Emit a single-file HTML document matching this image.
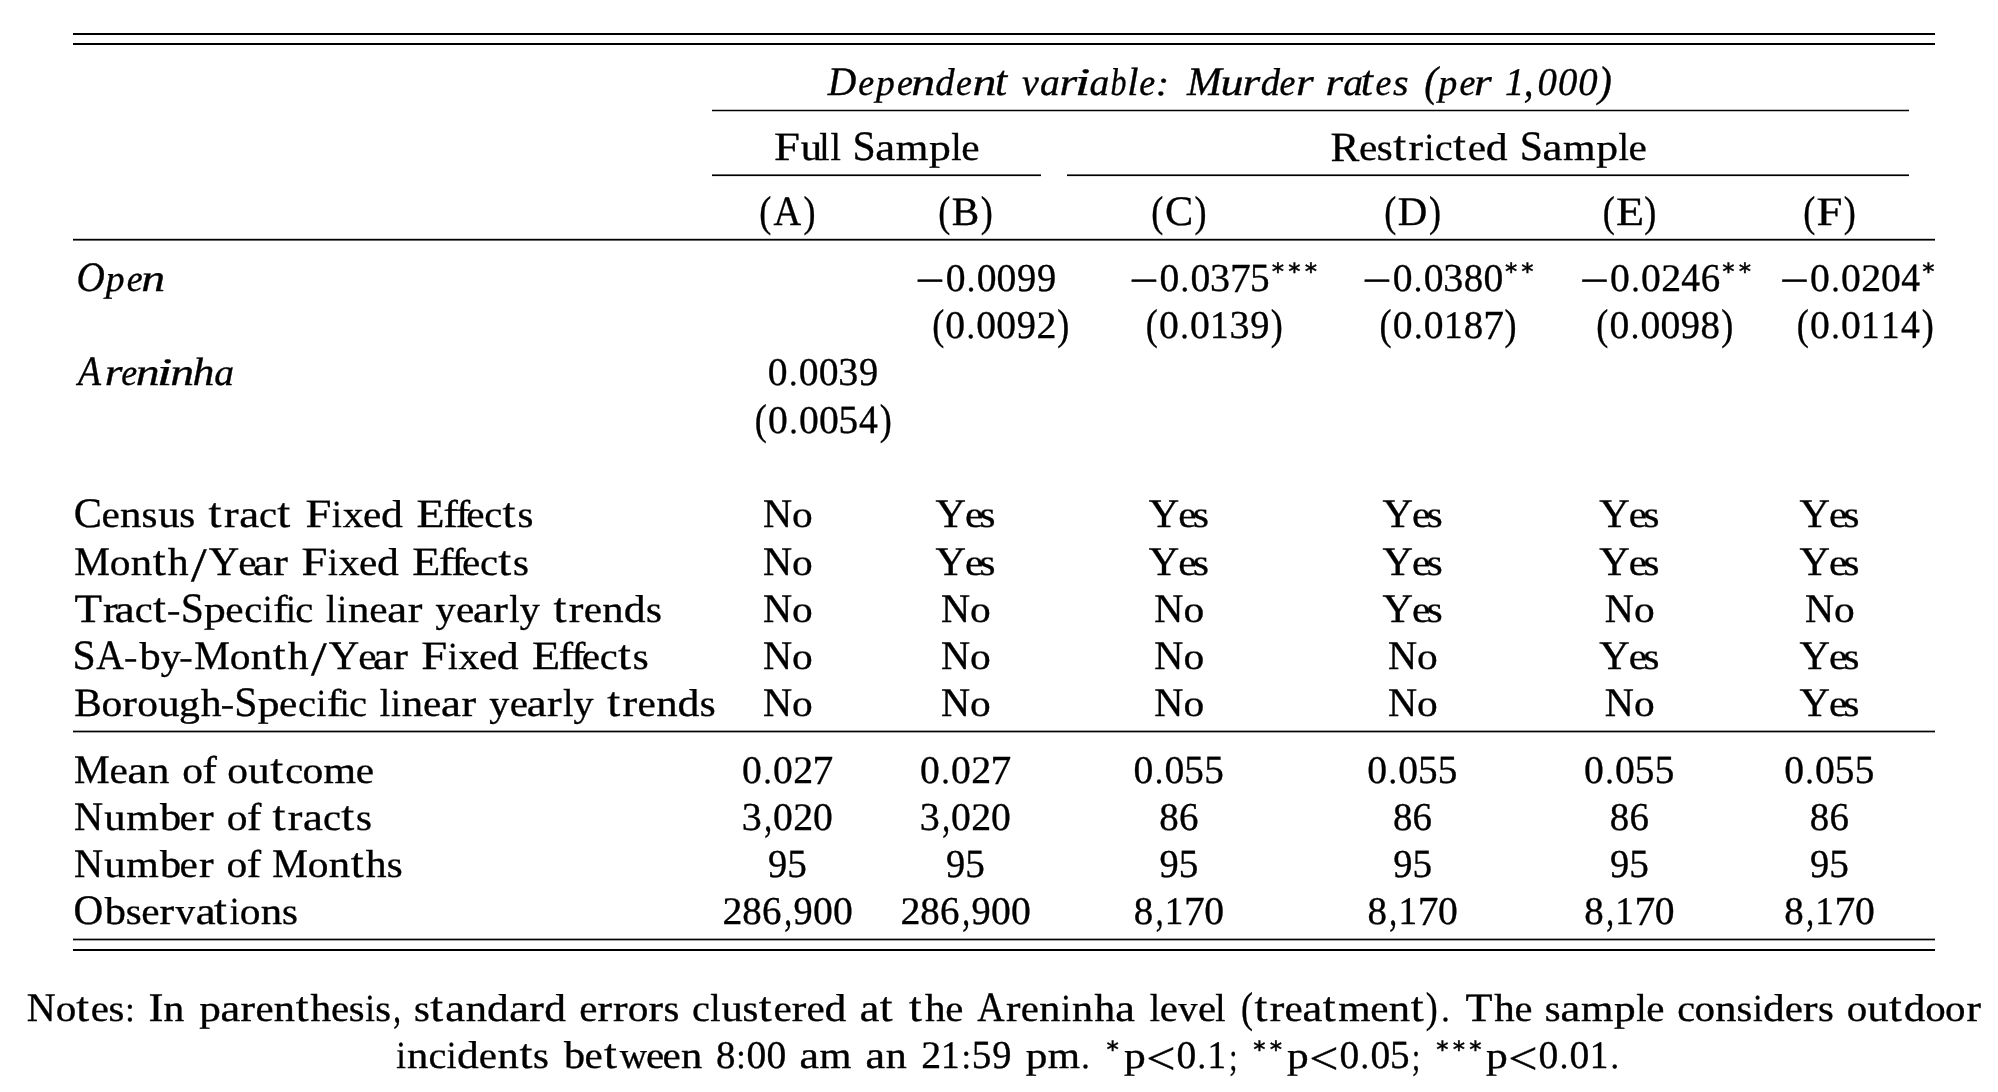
<!DOCTYPE html>
<html><head><meta charset="utf-8"><title>Regression table: murder rates</title>
<style>
html,body{margin:0;padding:0;background:#fff;}
svg{display:block;will-change:transform;}
text{font-family:"Liberation Serif",serif;font-size:40.0px;fill:#000;stroke:#000;stroke-width:0.35px;white-space:pre;font-variant-ligatures:none;font-kerning:none;text-rendering:geometricPrecision;}
text.s{font-family:"DejaVu Sans",sans-serif;font-size:30px;stroke:#000;stroke-width:0.6px;}
rect{fill:#000;}
</style></head><body>
<svg width="1998" height="1092" viewBox="0 0 1998 1092">
<rect x="0" y="0" width="1998" height="1092" style="fill:#fff"/>
<rect x="73" y="33" width="1862" height="2"/><rect x="73" y="43" width="1862" height="2"/><rect x="712" y="109.75" width="1197" height="1.5"/><rect x="712" y="174.4" width="329" height="1.7"/><rect x="1067" y="174.4" width="842" height="1.7"/><rect x="73" y="238.8" width="1862" height="1.8"/><rect x="73" y="730.65" width="1862" height="1.7"/><rect x="73" y="938.65" width="1862" height="1.7"/><rect x="73" y="949" width="1862" height="2"/>
<text transform="translate(827.25 95.00) scale(1.0368 1)" font-style="italic"><tspan x="0.48" y="0.00" textLength="27.52" lengthAdjust="spacingAndGlyphs" style="font-size:40.41px">D</tspan><tspan x="29.86" y="-0.06" textLength="15.38" lengthAdjust="spacingAndGlyphs" style="font-size:36.99px">e</tspan><tspan x="46.91" y="-0.15" textLength="18.12" lengthAdjust="spacingAndGlyphs" style="font-size:36.81px">p</tspan><tspan x="67.18" y="-0.06" textLength="15.38" lengthAdjust="spacingAndGlyphs" style="font-size:36.99px">e</tspan><tspan x="81.10" y="0.40" textLength="23.06" lengthAdjust="spacingAndGlyphs" style="font-size:37.96px">n</tspan><tspan x="104.23" y="-0.10" textLength="18.55" lengthAdjust="spacingAndGlyphs" style="font-size:38.78px">d</tspan><tspan x="124.14" y="-0.06" textLength="15.38" lengthAdjust="spacingAndGlyphs" style="font-size:36.99px">e</tspan><tspan x="140.02" y="0.40" textLength="23.06" lengthAdjust="spacingAndGlyphs" style="font-size:37.96px">n</tspan><tspan x="161.79" y="-0.15" textLength="11.77" lengthAdjust="spacingAndGlyphs" style="font-size:42.91px">t</tspan></text>
<text transform="translate(1022.42 95.00) scale(1.0053 1)" font-style="italic"><tspan x="-0.47" y="-0.08" textLength="16.73" lengthAdjust="spacingAndGlyphs" style="font-size:37.96px">v</tspan><tspan x="17.60" y="-0.07" textLength="19.65" lengthAdjust="spacingAndGlyphs" style="font-size:37.47px">a</tspan><tspan x="36.79" y="0.40" textLength="17.65" lengthAdjust="spacingAndGlyphs" style="font-size:37.96px">r</tspan><tspan x="52.05" y="0.39" textLength="15.63" lengthAdjust="spacingAndGlyphs" style="font-size:39.00px">i</tspan><tspan x="66.75" y="-0.07" textLength="19.65" lengthAdjust="spacingAndGlyphs" style="font-size:37.47px">a</tspan><tspan x="87.74" y="-0.10" textLength="15.86" lengthAdjust="spacingAndGlyphs" style="font-size:38.78px">b</tspan><tspan x="104.36" y="0.39" textLength="11.21" lengthAdjust="spacingAndGlyphs" style="font-size:39.48px">l</tspan><tspan x="116.10" y="-0.06" textLength="15.86" lengthAdjust="spacingAndGlyphs" style="font-size:36.99px">e</tspan><tspan x="132.69" y="-0.43" textLength="13.38" lengthAdjust="spacingAndGlyphs" style="font-size:34.72px">:</tspan></text>
<text transform="translate(1186.41 95.00) scale(1.0495 1)" font-style="italic"><tspan x="0.50" y="0.00" textLength="33.18" lengthAdjust="spacingAndGlyphs" style="font-size:40.41px">M</tspan><tspan x="32.52" y="-0.08" textLength="21.98" lengthAdjust="spacingAndGlyphs" style="font-size:37.96px">u</tspan><tspan x="53.48" y="0.40" textLength="16.90" lengthAdjust="spacingAndGlyphs" style="font-size:37.96px">r</tspan><tspan x="70.94" y="-0.10" textLength="18.33" lengthAdjust="spacingAndGlyphs" style="font-size:38.78px">d</tspan><tspan x="88.67" y="-0.06" textLength="15.19" lengthAdjust="spacingAndGlyphs" style="font-size:36.99px">e</tspan><tspan x="104.44" y="0.40" textLength="16.90" lengthAdjust="spacingAndGlyphs" style="font-size:37.96px">r</tspan></text>
<text transform="translate(1327.12 95.00) scale(1.0382 1)" font-style="italic"><tspan x="-1.65" y="0.40" textLength="17.09" lengthAdjust="spacingAndGlyphs" style="font-size:37.96px">r</tspan><tspan x="15.58" y="-0.07" textLength="19.03" lengthAdjust="spacingAndGlyphs" style="font-size:37.47px">a</tspan><tspan x="32.29" y="-0.15" textLength="11.76" lengthAdjust="spacingAndGlyphs" style="font-size:42.91px">t</tspan><tspan x="46.67" y="-0.06" textLength="15.36" lengthAdjust="spacingAndGlyphs" style="font-size:36.99px">e</tspan><tspan x="63.49" y="-0.06" textLength="14.99" lengthAdjust="spacingAndGlyphs" style="font-size:36.99px">s</tspan></text>
<text transform="translate(1425.49 95.00) scale(1.0145 1)" font-style="italic"><tspan x="-1.25" y="0.60" textLength="13.31" lengthAdjust="spacingAndGlyphs" style="font-size:42.87px">(</tspan><tspan x="12.75" y="-0.15" textLength="18.52" lengthAdjust="spacingAndGlyphs" style="font-size:36.81px">p</tspan><tspan x="33.46" y="-0.06" textLength="15.72" lengthAdjust="spacingAndGlyphs" style="font-size:36.99px">e</tspan><tspan x="47.77" y="0.40" textLength="17.49" lengthAdjust="spacingAndGlyphs" style="font-size:37.96px">r</tspan></text>
<text transform="translate(1506.44 95.00) scale(1.0343 1)" font-style="italic"><tspan x="-1.39" y="0.00" textLength="18.52" lengthAdjust="spacingAndGlyphs" style="font-size:39.00px">1</tspan><tspan x="16.78" y="0.71" textLength="9.40" lengthAdjust="spacingAndGlyphs" style="font-size:45.11px">,</tspan><tspan x="30.11" y="0.38" textLength="18.73" lengthAdjust="spacingAndGlyphs" style="font-size:39.21px">0</tspan><tspan x="49.80" y="0.38" textLength="18.73" lengthAdjust="spacingAndGlyphs" style="font-size:39.21px">0</tspan><tspan x="69.49" y="0.38" textLength="18.73" lengthAdjust="spacingAndGlyphs" style="font-size:39.21px">0</tspan><tspan x="88.70" y="0.60" textLength="13.15" lengthAdjust="spacingAndGlyphs" style="font-size:42.87px">)</tspan></text>
<text transform="translate(775.15 160.00) scale(1.0336 1)"><tspan x="-1.13" y="0.00" textLength="25.08" lengthAdjust="spacingAndGlyphs" style="font-size:40.26px">F</tspan><tspan x="24.66" y="-0.08" textLength="20.67" lengthAdjust="spacingAndGlyphs" style="font-size:37.96px">u</tspan><tspan x="42.74" y="0.00" textLength="10.04" lengthAdjust="spacingAndGlyphs" style="font-size:38.92px">l</tspan><tspan x="53.46" y="0.00" textLength="10.04" lengthAdjust="spacingAndGlyphs" style="font-size:38.92px">l</tspan></text>
<text transform="translate(855.41 160.00) scale(1.0589 1)"><tspan x="-2.71" y="0.35" textLength="21.91" lengthAdjust="spacingAndGlyphs" style="font-size:41.88px">S</tspan><tspan x="18.75" y="-0.08" textLength="18.79" lengthAdjust="spacingAndGlyphs" style="font-size:37.88px">a</tspan><tspan x="38.15" y="0.00" textLength="30.70" lengthAdjust="spacingAndGlyphs" style="font-size:37.12px">m</tspan><tspan x="69.54" y="-0.15" textLength="20.59" lengthAdjust="spacingAndGlyphs" style="font-size:36.81px">p</tspan><tspan x="90.50" y="0.00" textLength="9.79" lengthAdjust="spacingAndGlyphs" style="font-size:38.92px">l</tspan><tspan x="99.98" y="-0.07" textLength="17.26" lengthAdjust="spacingAndGlyphs" style="font-size:37.40px">e</tspan></text>
<text transform="translate(1331.45 160.00) scale(1.0914 1)"><tspan x="-0.99" y="0.87" textLength="26.39" lengthAdjust="spacingAndGlyphs" style="font-size:41.74px">R</tspan><tspan x="25.19" y="-0.07" textLength="16.75" lengthAdjust="spacingAndGlyphs" style="font-size:37.40px">e</tspan><tspan x="41.59" y="-0.07" textLength="14.60" lengthAdjust="spacingAndGlyphs" style="font-size:37.40px">s</tspan><tspan x="56.56" y="-0.14" textLength="11.89" lengthAdjust="spacingAndGlyphs" style="font-size:42.23px">t</tspan><tspan x="70.65" y="0.00" textLength="13.40" lengthAdjust="spacingAndGlyphs" style="font-size:37.12px">r</tspan><tspan x="85.29" y="0.00" textLength="8.95" lengthAdjust="spacingAndGlyphs" style="font-size:38.41px">i</tspan><tspan x="94.75" y="-0.07" textLength="16.42" lengthAdjust="spacingAndGlyphs" style="font-size:37.40px">c</tspan><tspan x="111.44" y="-0.14" textLength="11.89" lengthAdjust="spacingAndGlyphs" style="font-size:42.23px">t</tspan><tspan x="124.86" y="-0.07" textLength="16.75" lengthAdjust="spacingAndGlyphs" style="font-size:37.40px">e</tspan><tspan x="141.27" y="-0.10" textLength="19.98" lengthAdjust="spacingAndGlyphs" style="font-size:38.78px">d</tspan></text>
<text transform="translate(1522.71 160.00) scale(1.0589 1)"><tspan x="-2.71" y="0.35" textLength="21.91" lengthAdjust="spacingAndGlyphs" style="font-size:41.88px">S</tspan><tspan x="18.75" y="-0.08" textLength="18.79" lengthAdjust="spacingAndGlyphs" style="font-size:37.88px">a</tspan><tspan x="38.15" y="0.00" textLength="30.70" lengthAdjust="spacingAndGlyphs" style="font-size:37.12px">m</tspan><tspan x="69.54" y="-0.15" textLength="20.59" lengthAdjust="spacingAndGlyphs" style="font-size:36.81px">p</tspan><tspan x="90.50" y="0.00" textLength="9.79" lengthAdjust="spacingAndGlyphs" style="font-size:38.92px">l</tspan><tspan x="99.98" y="-0.07" textLength="17.26" lengthAdjust="spacingAndGlyphs" style="font-size:37.40px">e</tspan></text>
<text transform="translate(760.94 225.00) scale(1.0212 1)"><tspan x="-1.55" y="0.60" textLength="11.79" lengthAdjust="spacingAndGlyphs" style="font-size:42.87px">(</tspan><tspan x="12.41" y="-0.00" textLength="27.09" lengthAdjust="spacingAndGlyphs" style="font-size:41.93px">A</tspan><tspan x="41.78" y="0.60" textLength="11.79" lengthAdjust="spacingAndGlyphs" style="font-size:42.87px">)</tspan></text>
<text transform="translate(939.78 225.00) scale(1.0333 1)"><tspan x="-1.53" y="0.60" textLength="11.65" lengthAdjust="spacingAndGlyphs" style="font-size:42.87px">(</tspan><tspan x="11.59" y="-0.25" textLength="26.64" lengthAdjust="spacingAndGlyphs" style="font-size:40.03px">B</tspan><tspan x="39.67" y="0.60" textLength="11.65" lengthAdjust="spacingAndGlyphs" style="font-size:42.87px">)</tspan></text>
<text transform="translate(1152.90 225.00) scale(1.0433 1)"><tspan x="-1.52" y="0.60" textLength="11.54" lengthAdjust="spacingAndGlyphs" style="font-size:42.87px">(</tspan><tspan x="11.71" y="0.35" textLength="27.03" lengthAdjust="spacingAndGlyphs" style="font-size:41.88px">C</tspan><tspan x="39.82" y="0.60" textLength="11.54" lengthAdjust="spacingAndGlyphs" style="font-size:42.87px">)</tspan></text>
<text transform="translate(1385.76 225.00) scale(1.0307 1)"><tspan x="-1.53" y="0.60" textLength="11.68" lengthAdjust="spacingAndGlyphs" style="font-size:42.87px">(</tspan><tspan x="11.63" y="0.00" textLength="28.61" lengthAdjust="spacingAndGlyphs" style="font-size:40.41px">D</tspan><tspan x="41.93" y="0.60" textLength="11.68" lengthAdjust="spacingAndGlyphs" style="font-size:42.87px">)</tspan></text>
<text transform="translate(1604.22 225.00) scale(1.0592 1)"><tspan x="-1.49" y="0.60" textLength="11.37" lengthAdjust="spacingAndGlyphs" style="font-size:42.87px">(</tspan><tspan x="11.10" y="0.00" textLength="26.51" lengthAdjust="spacingAndGlyphs" style="font-size:40.26px">E</tspan><tspan x="37.69" y="0.60" textLength="11.37" lengthAdjust="spacingAndGlyphs" style="font-size:42.87px">)</tspan></text>
<text transform="translate(1804.87 225.00) scale(1.0816 1)"><tspan x="-1.46" y="0.60" textLength="11.13" lengthAdjust="spacingAndGlyphs" style="font-size:42.87px">(</tspan><tspan x="10.86" y="0.00" textLength="23.97" lengthAdjust="spacingAndGlyphs" style="font-size:40.26px">F</tspan><tspan x="35.87" y="0.60" textLength="11.13" lengthAdjust="spacingAndGlyphs" style="font-size:42.87px">)</tspan></text>
<text transform="translate(78.35 291.00) scale(1.0203 1)" font-style="italic"><tspan x="-1.92" y="0.35" textLength="27.77" lengthAdjust="spacingAndGlyphs" style="font-size:41.88px">O</tspan><tspan x="26.85" y="-0.15" textLength="18.41" lengthAdjust="spacingAndGlyphs" style="font-size:36.81px">p</tspan><tspan x="47.45" y="-0.06" textLength="15.63" lengthAdjust="spacingAndGlyphs" style="font-size:36.99px">e</tspan><tspan x="61.60" y="0.40" textLength="23.44" lengthAdjust="spacingAndGlyphs" style="font-size:37.96px">n</tspan></text>
<text transform="translate(947.14 291.00) scale(1.0046 1)"><tspan x="-1.48" y="0.38" textLength="19.72" lengthAdjust="spacingAndGlyphs" style="font-size:39.21px">0</tspan><tspan x="19.59" y="-0.43" textLength="8.53" lengthAdjust="spacingAndGlyphs" style="font-size:34.35px">.</tspan><tspan x="29.38" y="0.38" textLength="19.72" lengthAdjust="spacingAndGlyphs" style="font-size:39.21px">0</tspan><tspan x="49.22" y="0.38" textLength="19.72" lengthAdjust="spacingAndGlyphs" style="font-size:39.21px">0</tspan><tspan x="69.53" y="0.38" textLength="19.09" lengthAdjust="spacingAndGlyphs" style="font-size:39.57px">9</tspan><tspan x="89.37" y="0.38" textLength="19.09" lengthAdjust="spacingAndGlyphs" style="font-size:39.57px">9</tspan></text>
<text transform="translate(1160.94 291.00) scale(1.0018 1)"><tspan x="-1.48" y="0.38" textLength="19.77" lengthAdjust="spacingAndGlyphs" style="font-size:39.21px">0</tspan><tspan x="19.64" y="-0.43" textLength="8.55" lengthAdjust="spacingAndGlyphs" style="font-size:34.35px">.</tspan><tspan x="29.46" y="0.38" textLength="19.77" lengthAdjust="spacingAndGlyphs" style="font-size:39.21px">0</tspan><tspan x="49.03" y="0.38" textLength="20.01" lengthAdjust="spacingAndGlyphs" style="font-size:39.57px">3</tspan><tspan x="68.83" y="0.87" textLength="20.73" lengthAdjust="spacingAndGlyphs" style="font-size:41.30px">7</tspan><tspan x="88.91" y="0.37" textLength="19.58" lengthAdjust="spacingAndGlyphs" style="font-size:39.94px">5</tspan></text>
<text transform="translate(1394.14 291.00) scale(1.0056 1)"><tspan x="-1.48" y="0.38" textLength="19.70" lengthAdjust="spacingAndGlyphs" style="font-size:39.21px">0</tspan><tspan x="19.57" y="-0.43" textLength="8.52" lengthAdjust="spacingAndGlyphs" style="font-size:34.35px">.</tspan><tspan x="29.35" y="0.38" textLength="19.70" lengthAdjust="spacingAndGlyphs" style="font-size:39.21px">0</tspan><tspan x="48.85" y="0.38" textLength="19.93" lengthAdjust="spacingAndGlyphs" style="font-size:39.57px">3</tspan><tspan x="69.21" y="0.38" textLength="19.35" lengthAdjust="spacingAndGlyphs" style="font-size:39.21px">8</tspan><tspan x="88.80" y="0.38" textLength="19.70" lengthAdjust="spacingAndGlyphs" style="font-size:39.21px">0</tspan></text>
<text transform="translate(1611.54 291.00) scale(1.0023 1)"><tspan x="-1.48" y="0.38" textLength="19.76" lengthAdjust="spacingAndGlyphs" style="font-size:39.21px">0</tspan><tspan x="19.63" y="-0.43" textLength="8.55" lengthAdjust="spacingAndGlyphs" style="font-size:34.35px">.</tspan><tspan x="29.45" y="0.38" textLength="19.76" lengthAdjust="spacingAndGlyphs" style="font-size:39.21px">0</tspan><tspan x="49.57" y="0.00" textLength="19.88" lengthAdjust="spacingAndGlyphs" style="font-size:39.00px">2</tspan><tspan x="69.59" y="0.00" textLength="18.77" lengthAdjust="spacingAndGlyphs" style="font-size:40.11px">4</tspan><tspan x="89.07" y="0.38" textLength="19.41" lengthAdjust="spacingAndGlyphs" style="font-size:39.57px">6</tspan></text>
<text transform="translate(1811.54 291.00) scale(0.9999 1)"><tspan x="-1.49" y="0.38" textLength="19.81" lengthAdjust="spacingAndGlyphs" style="font-size:39.21px">0</tspan><tspan x="19.68" y="-0.43" textLength="8.57" lengthAdjust="spacingAndGlyphs" style="font-size:34.35px">.</tspan><tspan x="29.52" y="0.38" textLength="19.81" lengthAdjust="spacingAndGlyphs" style="font-size:39.21px">0</tspan><tspan x="49.69" y="0.00" textLength="19.93" lengthAdjust="spacingAndGlyphs" style="font-size:39.00px">2</tspan><tspan x="69.37" y="0.38" textLength="19.81" lengthAdjust="spacingAndGlyphs" style="font-size:39.21px">0</tspan><tspan x="89.68" y="0.00" textLength="18.81" lengthAdjust="spacingAndGlyphs" style="font-size:40.11px">4</tspan></text>
<text transform="translate(933.75 338.00) scale(1.0048 1)"><tspan x="-1.57" y="0.60" textLength="11.98" lengthAdjust="spacingAndGlyphs" style="font-size:42.87px">(</tspan><tspan x="11.57" y="0.38" textLength="19.71" lengthAdjust="spacingAndGlyphs" style="font-size:39.21px">0</tspan><tspan x="32.63" y="-0.43" textLength="8.53" lengthAdjust="spacingAndGlyphs" style="font-size:34.35px">.</tspan><tspan x="42.42" y="0.38" textLength="19.71" lengthAdjust="spacingAndGlyphs" style="font-size:39.21px">0</tspan><tspan x="62.25" y="0.38" textLength="19.71" lengthAdjust="spacingAndGlyphs" style="font-size:39.21px">0</tspan><tspan x="82.56" y="0.38" textLength="19.08" lengthAdjust="spacingAndGlyphs" style="font-size:39.57px">9</tspan><tspan x="102.15" y="0.00" textLength="19.83" lengthAdjust="spacingAndGlyphs" style="font-size:39.00px">2</tspan><tspan x="122.88" y="0.60" textLength="11.98" lengthAdjust="spacingAndGlyphs" style="font-size:42.87px">)</tspan></text>
<text transform="translate(1147.35 338.00) scale(1.0048 1)"><tspan x="-1.57" y="0.60" textLength="11.98" lengthAdjust="spacingAndGlyphs" style="font-size:42.87px">(</tspan><tspan x="11.57" y="0.38" textLength="19.71" lengthAdjust="spacingAndGlyphs" style="font-size:39.21px">0</tspan><tspan x="32.63" y="-0.43" textLength="8.53" lengthAdjust="spacingAndGlyphs" style="font-size:34.35px">.</tspan><tspan x="42.42" y="0.38" textLength="19.71" lengthAdjust="spacingAndGlyphs" style="font-size:39.21px">0</tspan><tspan x="62.47" y="0.00" textLength="18.51" lengthAdjust="spacingAndGlyphs" style="font-size:39.00px">1</tspan><tspan x="81.76" y="0.38" textLength="19.95" lengthAdjust="spacingAndGlyphs" style="font-size:39.57px">3</tspan><tspan x="102.39" y="0.38" textLength="19.08" lengthAdjust="spacingAndGlyphs" style="font-size:39.57px">9</tspan><tspan x="122.88" y="0.60" textLength="11.98" lengthAdjust="spacingAndGlyphs" style="font-size:42.87px">)</tspan></text>
<text transform="translate(1381.15 338.00) scale(1.0048 1)"><tspan x="-1.57" y="0.60" textLength="11.98" lengthAdjust="spacingAndGlyphs" style="font-size:42.87px">(</tspan><tspan x="11.57" y="0.38" textLength="19.71" lengthAdjust="spacingAndGlyphs" style="font-size:39.21px">0</tspan><tspan x="32.63" y="-0.43" textLength="8.53" lengthAdjust="spacingAndGlyphs" style="font-size:34.35px">.</tspan><tspan x="42.42" y="0.38" textLength="19.71" lengthAdjust="spacingAndGlyphs" style="font-size:39.21px">0</tspan><tspan x="62.47" y="0.00" textLength="18.51" lengthAdjust="spacingAndGlyphs" style="font-size:39.00px">1</tspan><tspan x="82.30" y="0.38" textLength="19.36" lengthAdjust="spacingAndGlyphs" style="font-size:39.21px">8</tspan><tspan x="101.50" y="0.87" textLength="20.67" lengthAdjust="spacingAndGlyphs" style="font-size:41.30px">7</tspan><tspan x="122.88" y="0.60" textLength="11.98" lengthAdjust="spacingAndGlyphs" style="font-size:42.87px">)</tspan></text>
<text transform="translate(1597.85 338.00) scale(1.0048 1)"><tspan x="-1.57" y="0.60" textLength="11.98" lengthAdjust="spacingAndGlyphs" style="font-size:42.87px">(</tspan><tspan x="11.57" y="0.38" textLength="19.71" lengthAdjust="spacingAndGlyphs" style="font-size:39.21px">0</tspan><tspan x="32.63" y="-0.43" textLength="8.53" lengthAdjust="spacingAndGlyphs" style="font-size:34.35px">.</tspan><tspan x="42.42" y="0.38" textLength="19.71" lengthAdjust="spacingAndGlyphs" style="font-size:39.21px">0</tspan><tspan x="62.25" y="0.38" textLength="19.71" lengthAdjust="spacingAndGlyphs" style="font-size:39.21px">0</tspan><tspan x="82.56" y="0.38" textLength="19.08" lengthAdjust="spacingAndGlyphs" style="font-size:39.57px">9</tspan><tspan x="102.13" y="0.38" textLength="19.36" lengthAdjust="spacingAndGlyphs" style="font-size:39.21px">8</tspan><tspan x="122.88" y="0.60" textLength="11.98" lengthAdjust="spacingAndGlyphs" style="font-size:42.87px">)</tspan></text>
<text transform="translate(1798.35 338.00) scale(1.0163 1)"><tspan x="-1.56" y="0.60" textLength="11.85" lengthAdjust="spacingAndGlyphs" style="font-size:42.87px">(</tspan><tspan x="11.44" y="0.38" textLength="19.49" lengthAdjust="spacingAndGlyphs" style="font-size:39.21px">0</tspan><tspan x="32.26" y="-0.43" textLength="8.43" lengthAdjust="spacingAndGlyphs" style="font-size:34.35px">.</tspan><tspan x="41.94" y="0.38" textLength="19.49" lengthAdjust="spacingAndGlyphs" style="font-size:39.21px">0</tspan><tspan x="61.77" y="0.00" textLength="18.30" lengthAdjust="spacingAndGlyphs" style="font-size:39.00px">1</tspan><tspan x="81.38" y="0.00" textLength="18.30" lengthAdjust="spacingAndGlyphs" style="font-size:39.00px">1</tspan><tspan x="101.14" y="0.00" textLength="18.51" lengthAdjust="spacingAndGlyphs" style="font-size:40.11px">4</tspan><tspan x="121.50" y="0.60" textLength="11.85" lengthAdjust="spacingAndGlyphs" style="font-size:42.87px">)</tspan></text>
<text transform="translate(75.95 385.00) scale(1.0564 1)" font-style="italic"><tspan x="2.01" y="-0.00" textLength="21.79" lengthAdjust="spacingAndGlyphs" style="font-size:41.93px">A</tspan><tspan x="27.26" y="0.40" textLength="16.79" lengthAdjust="spacingAndGlyphs" style="font-size:37.96px">r</tspan><tspan x="42.94" y="-0.06" textLength="15.10" lengthAdjust="spacingAndGlyphs" style="font-size:36.99px">e</tspan><tspan x="56.60" y="0.40" textLength="22.63" lengthAdjust="spacingAndGlyphs" style="font-size:37.96px">n</tspan><tspan x="76.49" y="0.39" textLength="14.88" lengthAdjust="spacingAndGlyphs" style="font-size:39.00px">i</tspan><tspan x="89.38" y="0.40" textLength="22.63" lengthAdjust="spacingAndGlyphs" style="font-size:37.96px">n</tspan><tspan x="110.44" y="0.39" textLength="20.72" lengthAdjust="spacingAndGlyphs" style="font-size:39.48px">h</tspan><tspan x="130.95" y="-0.07" textLength="18.70" lengthAdjust="spacingAndGlyphs" style="font-size:37.47px">a</tspan></text>
<text transform="translate(769.25 385.00) scale(1.0046 1)"><tspan x="-1.48" y="0.38" textLength="19.72" lengthAdjust="spacingAndGlyphs" style="font-size:39.21px">0</tspan><tspan x="19.59" y="-0.43" textLength="8.53" lengthAdjust="spacingAndGlyphs" style="font-size:34.35px">.</tspan><tspan x="29.38" y="0.38" textLength="19.72" lengthAdjust="spacingAndGlyphs" style="font-size:39.21px">0</tspan><tspan x="49.22" y="0.38" textLength="19.72" lengthAdjust="spacingAndGlyphs" style="font-size:39.21px">0</tspan><tspan x="68.73" y="0.38" textLength="19.95" lengthAdjust="spacingAndGlyphs" style="font-size:39.57px">3</tspan><tspan x="89.37" y="0.38" textLength="19.09" lengthAdjust="spacingAndGlyphs" style="font-size:39.57px">9</tspan></text>
<text transform="translate(756.35 433.00) scale(1.0048 1)"><tspan x="-1.57" y="0.60" textLength="11.98" lengthAdjust="spacingAndGlyphs" style="font-size:42.87px">(</tspan><tspan x="11.57" y="0.38" textLength="19.71" lengthAdjust="spacingAndGlyphs" style="font-size:39.21px">0</tspan><tspan x="32.63" y="-0.43" textLength="8.53" lengthAdjust="spacingAndGlyphs" style="font-size:34.35px">.</tspan><tspan x="42.42" y="0.38" textLength="19.71" lengthAdjust="spacingAndGlyphs" style="font-size:39.21px">0</tspan><tspan x="62.25" y="0.38" textLength="19.71" lengthAdjust="spacingAndGlyphs" style="font-size:39.21px">0</tspan><tspan x="81.86" y="0.37" textLength="19.52" lengthAdjust="spacingAndGlyphs" style="font-size:39.94px">5</tspan><tspan x="102.29" y="0.00" textLength="18.72" lengthAdjust="spacingAndGlyphs" style="font-size:40.11px">4</tspan><tspan x="122.88" y="0.60" textLength="11.98" lengthAdjust="spacingAndGlyphs" style="font-size:42.87px">)</tspan></text>
<text transform="translate(75.25 527.00) scale(1.0524 1)"><tspan x="-1.51" y="0.35" textLength="26.79" lengthAdjust="spacingAndGlyphs" style="font-size:41.88px">C</tspan><tspan x="24.83" y="-0.07" textLength="17.37" lengthAdjust="spacingAndGlyphs" style="font-size:37.40px">e</tspan><tspan x="42.54" y="0.00" textLength="20.30" lengthAdjust="spacingAndGlyphs" style="font-size:37.12px">n</tspan><tspan x="62.90" y="-0.07" textLength="15.14" lengthAdjust="spacingAndGlyphs" style="font-size:37.40px">s</tspan><tspan x="78.77" y="-0.08" textLength="20.30" lengthAdjust="spacingAndGlyphs" style="font-size:37.96px">u</tspan><tspan x="98.87" y="-0.07" textLength="15.14" lengthAdjust="spacingAndGlyphs" style="font-size:37.40px">s</tspan></text>
<text transform="translate(208.91 527.00) scale(1.1531 1)"><tspan x="-0.25" y="-0.14" textLength="11.25" lengthAdjust="spacingAndGlyphs" style="font-size:42.23px">t</tspan><tspan x="13.07" y="0.00" textLength="12.68" lengthAdjust="spacingAndGlyphs" style="font-size:37.12px">r</tspan><tspan x="26.29" y="-0.08" textLength="17.26" lengthAdjust="spacingAndGlyphs" style="font-size:37.88px">a</tspan><tspan x="43.56" y="-0.07" textLength="15.54" lengthAdjust="spacingAndGlyphs" style="font-size:37.40px">c</tspan><tspan x="59.36" y="-0.14" textLength="11.25" lengthAdjust="spacingAndGlyphs" style="font-size:42.23px">t</tspan></text>
<text transform="translate(306.72 527.00) scale(1.0645 1)"><tspan x="-1.09" y="0.00" textLength="24.35" lengthAdjust="spacingAndGlyphs" style="font-size:40.26px">F</tspan><tspan x="23.83" y="0.00" textLength="9.17" lengthAdjust="spacingAndGlyphs" style="font-size:38.41px">i</tspan><tspan x="33.86" y="0.00" textLength="19.54" lengthAdjust="spacingAndGlyphs" style="font-size:37.05px">x</tspan><tspan x="52.98" y="-0.07" textLength="17.17" lengthAdjust="spacingAndGlyphs" style="font-size:37.40px">e</tspan><tspan x="69.80" y="-0.10" textLength="20.49" lengthAdjust="spacingAndGlyphs" style="font-size:38.78px">d</tspan></text>
<text transform="translate(417.68 527.00) scale(1.0365 1)"><tspan x="-1.11" y="0.00" textLength="27.09" lengthAdjust="spacingAndGlyphs" style="font-size:40.26px">E</tspan><tspan x="24.88" y="0.00" textLength="13.87" lengthAdjust="spacingAndGlyphs" style="font-size:38.78px">f</tspan><tspan x="36.65" y="0.00" textLength="13.87" lengthAdjust="spacingAndGlyphs" style="font-size:38.78px">f</tspan><tspan x="46.92" y="-0.07" textLength="17.63" lengthAdjust="spacingAndGlyphs" style="font-size:37.40px">e</tspan><tspan x="64.30" y="-0.07" textLength="17.29" lengthAdjust="spacingAndGlyphs" style="font-size:37.40px">c</tspan><tspan x="81.88" y="-0.14" textLength="12.52" lengthAdjust="spacingAndGlyphs" style="font-size:42.23px">t</tspan><tspan x="96.21" y="-0.07" textLength="15.37" lengthAdjust="spacingAndGlyphs" style="font-size:37.40px">s</tspan></text>
<text transform="translate(763.89 527.00) scale(1.0177 1)"><tspan x="-0.99" y="0.00" textLength="28.59" lengthAdjust="spacingAndGlyphs" style="font-size:40.41px">N</tspan><tspan x="27.64" y="-0.07" textLength="20.39" lengthAdjust="spacingAndGlyphs" style="font-size:37.40px">o</tspan></text>
<text transform="translate(935.91 527.00) scale(1.0343 1)"><tspan x="-0.51" y="0.00" textLength="29.44" lengthAdjust="spacingAndGlyphs" style="font-size:40.41px">Y</tspan><tspan x="28.08" y="-0.07" textLength="17.67" lengthAdjust="spacingAndGlyphs" style="font-size:37.40px">e</tspan><tspan x="42.19" y="-0.07" textLength="15.40" lengthAdjust="spacingAndGlyphs" style="font-size:37.40px">s</tspan></text>
<text transform="translate(1149.31 527.00) scale(1.0343 1)"><tspan x="-0.51" y="0.00" textLength="29.44" lengthAdjust="spacingAndGlyphs" style="font-size:40.41px">Y</tspan><tspan x="28.08" y="-0.07" textLength="17.67" lengthAdjust="spacingAndGlyphs" style="font-size:37.40px">e</tspan><tspan x="42.19" y="-0.07" textLength="15.40" lengthAdjust="spacingAndGlyphs" style="font-size:37.40px">s</tspan></text>
<text transform="translate(1383.01 527.00) scale(1.0343 1)"><tspan x="-0.51" y="0.00" textLength="29.44" lengthAdjust="spacingAndGlyphs" style="font-size:40.41px">Y</tspan><tspan x="28.08" y="-0.07" textLength="17.67" lengthAdjust="spacingAndGlyphs" style="font-size:37.40px">e</tspan><tspan x="42.19" y="-0.07" textLength="15.40" lengthAdjust="spacingAndGlyphs" style="font-size:37.40px">s</tspan></text>
<text transform="translate(1599.81 527.00) scale(1.0343 1)"><tspan x="-0.51" y="0.00" textLength="29.44" lengthAdjust="spacingAndGlyphs" style="font-size:40.41px">Y</tspan><tspan x="28.08" y="-0.07" textLength="17.67" lengthAdjust="spacingAndGlyphs" style="font-size:37.40px">e</tspan><tspan x="42.19" y="-0.07" textLength="15.40" lengthAdjust="spacingAndGlyphs" style="font-size:37.40px">s</tspan></text>
<text transform="translate(1799.91 527.00) scale(1.0343 1)"><tspan x="-0.51" y="0.00" textLength="29.44" lengthAdjust="spacingAndGlyphs" style="font-size:40.41px">Y</tspan><tspan x="28.08" y="-0.07" textLength="17.67" lengthAdjust="spacingAndGlyphs" style="font-size:37.40px">e</tspan><tspan x="42.19" y="-0.07" textLength="15.40" lengthAdjust="spacingAndGlyphs" style="font-size:37.40px">s</tspan></text>
<text transform="translate(75.25 575.00) scale(1.1159 1)"><tspan x="-0.90" y="0.00" textLength="31.94" lengthAdjust="spacingAndGlyphs" style="font-size:40.41px">M</tspan><tspan x="31.00" y="-0.07" textLength="18.59" lengthAdjust="spacingAndGlyphs" style="font-size:37.40px">o</tspan><tspan x="49.71" y="0.00" textLength="19.14" lengthAdjust="spacingAndGlyphs" style="font-size:37.12px">n</tspan><tspan x="69.48" y="-0.14" textLength="11.63" lengthAdjust="spacingAndGlyphs" style="font-size:42.23px">t</tspan><tspan x="82.94" y="0.00" textLength="18.64" lengthAdjust="spacingAndGlyphs" style="font-size:38.92px">h</tspan><tspan x="103.83" y="5.89" textLength="13.98" lengthAdjust="spacingAndGlyphs" style="font-size:48.00px">/</tspan><tspan x="119.61" y="0.00" textLength="27.29" lengthAdjust="spacingAndGlyphs" style="font-size:40.41px">Y</tspan><tspan x="146.10" y="-0.07" textLength="16.38" lengthAdjust="spacingAndGlyphs" style="font-size:37.40px">e</tspan><tspan x="159.30" y="-0.08" textLength="17.83" lengthAdjust="spacingAndGlyphs" style="font-size:37.88px">a</tspan><tspan x="177.49" y="0.00" textLength="13.11" lengthAdjust="spacingAndGlyphs" style="font-size:37.12px">r</tspan></text>
<text transform="translate(302.62 575.00) scale(1.0645 1)"><tspan x="-1.09" y="0.00" textLength="24.35" lengthAdjust="spacingAndGlyphs" style="font-size:40.26px">F</tspan><tspan x="23.83" y="0.00" textLength="9.17" lengthAdjust="spacingAndGlyphs" style="font-size:38.41px">i</tspan><tspan x="33.86" y="0.00" textLength="19.54" lengthAdjust="spacingAndGlyphs" style="font-size:37.05px">x</tspan><tspan x="52.98" y="-0.07" textLength="17.17" lengthAdjust="spacingAndGlyphs" style="font-size:37.40px">e</tspan><tspan x="69.80" y="-0.10" textLength="20.49" lengthAdjust="spacingAndGlyphs" style="font-size:38.78px">d</tspan></text>
<text transform="translate(413.28 575.00) scale(1.0365 1)"><tspan x="-1.11" y="0.00" textLength="27.09" lengthAdjust="spacingAndGlyphs" style="font-size:40.26px">E</tspan><tspan x="24.88" y="0.00" textLength="13.87" lengthAdjust="spacingAndGlyphs" style="font-size:38.78px">f</tspan><tspan x="36.65" y="0.00" textLength="13.87" lengthAdjust="spacingAndGlyphs" style="font-size:38.78px">f</tspan><tspan x="46.92" y="-0.07" textLength="17.63" lengthAdjust="spacingAndGlyphs" style="font-size:37.40px">e</tspan><tspan x="64.30" y="-0.07" textLength="17.29" lengthAdjust="spacingAndGlyphs" style="font-size:37.40px">c</tspan><tspan x="81.88" y="-0.14" textLength="12.52" lengthAdjust="spacingAndGlyphs" style="font-size:42.23px">t</tspan><tspan x="96.21" y="-0.07" textLength="15.37" lengthAdjust="spacingAndGlyphs" style="font-size:37.40px">s</tspan></text>
<text transform="translate(763.89 575.00) scale(1.0177 1)"><tspan x="-0.99" y="0.00" textLength="28.59" lengthAdjust="spacingAndGlyphs" style="font-size:40.41px">N</tspan><tspan x="27.64" y="-0.07" textLength="20.39" lengthAdjust="spacingAndGlyphs" style="font-size:37.40px">o</tspan></text>
<text transform="translate(935.91 575.00) scale(1.0343 1)"><tspan x="-0.51" y="0.00" textLength="29.44" lengthAdjust="spacingAndGlyphs" style="font-size:40.41px">Y</tspan><tspan x="28.08" y="-0.07" textLength="17.67" lengthAdjust="spacingAndGlyphs" style="font-size:37.40px">e</tspan><tspan x="42.19" y="-0.07" textLength="15.40" lengthAdjust="spacingAndGlyphs" style="font-size:37.40px">s</tspan></text>
<text transform="translate(1149.31 575.00) scale(1.0343 1)"><tspan x="-0.51" y="0.00" textLength="29.44" lengthAdjust="spacingAndGlyphs" style="font-size:40.41px">Y</tspan><tspan x="28.08" y="-0.07" textLength="17.67" lengthAdjust="spacingAndGlyphs" style="font-size:37.40px">e</tspan><tspan x="42.19" y="-0.07" textLength="15.40" lengthAdjust="spacingAndGlyphs" style="font-size:37.40px">s</tspan></text>
<text transform="translate(1383.01 575.00) scale(1.0343 1)"><tspan x="-0.51" y="0.00" textLength="29.44" lengthAdjust="spacingAndGlyphs" style="font-size:40.41px">Y</tspan><tspan x="28.08" y="-0.07" textLength="17.67" lengthAdjust="spacingAndGlyphs" style="font-size:37.40px">e</tspan><tspan x="42.19" y="-0.07" textLength="15.40" lengthAdjust="spacingAndGlyphs" style="font-size:37.40px">s</tspan></text>
<text transform="translate(1599.81 575.00) scale(1.0343 1)"><tspan x="-0.51" y="0.00" textLength="29.44" lengthAdjust="spacingAndGlyphs" style="font-size:40.41px">Y</tspan><tspan x="28.08" y="-0.07" textLength="17.67" lengthAdjust="spacingAndGlyphs" style="font-size:37.40px">e</tspan><tspan x="42.19" y="-0.07" textLength="15.40" lengthAdjust="spacingAndGlyphs" style="font-size:37.40px">s</tspan></text>
<text transform="translate(1799.91 575.00) scale(1.0343 1)"><tspan x="-0.51" y="0.00" textLength="29.44" lengthAdjust="spacingAndGlyphs" style="font-size:40.41px">Y</tspan><tspan x="28.08" y="-0.07" textLength="17.67" lengthAdjust="spacingAndGlyphs" style="font-size:37.40px">e</tspan><tspan x="42.19" y="-0.07" textLength="15.40" lengthAdjust="spacingAndGlyphs" style="font-size:37.40px">s</tspan></text>
<text transform="translate(75.25 622.00) scale(1.0497 1)"><tspan x="-0.80" y="0.00" textLength="26.21" lengthAdjust="spacingAndGlyphs" style="font-size:40.11px">T</tspan><tspan x="26.34" y="0.00" textLength="13.93" lengthAdjust="spacingAndGlyphs" style="font-size:37.12px">r</tspan><tspan x="37.71" y="-0.08" textLength="18.96" lengthAdjust="spacingAndGlyphs" style="font-size:37.88px">a</tspan><tspan x="56.68" y="-0.07" textLength="17.07" lengthAdjust="spacingAndGlyphs" style="font-size:37.40px">c</tspan><tspan x="74.03" y="-0.14" textLength="12.36" lengthAdjust="spacingAndGlyphs" style="font-size:42.23px">t</tspan><tspan x="87.36" y="-0.80" textLength="12.76" lengthAdjust="spacingAndGlyphs" style="font-size:32.00px">-</tspan><tspan x="100.41" y="0.35" textLength="22.11" lengthAdjust="spacingAndGlyphs" style="font-size:41.88px">S</tspan><tspan x="122.69" y="-0.15" textLength="20.77" lengthAdjust="spacingAndGlyphs" style="font-size:36.81px">p</tspan><tspan x="142.84" y="-0.07" textLength="17.41" lengthAdjust="spacingAndGlyphs" style="font-size:37.40px">e</tspan><tspan x="161.08" y="-0.07" textLength="17.07" lengthAdjust="spacingAndGlyphs" style="font-size:37.40px">c</tspan><tspan x="178.65" y="0.00" textLength="9.30" lengthAdjust="spacingAndGlyphs" style="font-size:38.41px">i</tspan><tspan x="188.55" y="0.00" textLength="13.70" lengthAdjust="spacingAndGlyphs" style="font-size:38.78px">f</tspan><tspan x="200.82" y="0.00" textLength="9.30" lengthAdjust="spacingAndGlyphs" style="font-size:38.41px">i</tspan><tspan x="209.59" y="-0.07" textLength="17.07" lengthAdjust="spacingAndGlyphs" style="font-size:37.40px">c</tspan></text>
<text transform="translate(326.75 622.00) scale(1.0571 1)"><tspan x="-0.66" y="0.00" textLength="9.81" lengthAdjust="spacingAndGlyphs" style="font-size:38.92px">l</tspan><tspan x="9.86" y="0.00" textLength="9.24" lengthAdjust="spacingAndGlyphs" style="font-size:38.41px">i</tspan><tspan x="20.20" y="0.00" textLength="20.21" lengthAdjust="spacingAndGlyphs" style="font-size:37.12px">n</tspan><tspan x="40.27" y="-0.07" textLength="17.29" lengthAdjust="spacingAndGlyphs" style="font-size:37.40px">e</tspan><tspan x="57.33" y="-0.08" textLength="18.82" lengthAdjust="spacingAndGlyphs" style="font-size:37.88px">a</tspan><tspan x="76.54" y="0.00" textLength="13.83" lengthAdjust="spacingAndGlyphs" style="font-size:37.12px">r</tspan></text>
<text transform="translate(436.09 622.00) scale(1.0459 1)"><tspan x="-0.48" y="0.04" textLength="19.15" lengthAdjust="spacingAndGlyphs" style="font-size:37.14px">y</tspan><tspan x="19.02" y="-0.07" textLength="17.47" lengthAdjust="spacingAndGlyphs" style="font-size:37.40px">e</tspan><tspan x="35.20" y="-0.08" textLength="19.02" lengthAdjust="spacingAndGlyphs" style="font-size:37.88px">a</tspan><tspan x="54.61" y="0.00" textLength="13.98" lengthAdjust="spacingAndGlyphs" style="font-size:37.12px">r</tspan><tspan x="69.85" y="0.00" textLength="9.92" lengthAdjust="spacingAndGlyphs" style="font-size:38.92px">l</tspan><tspan x="80.06" y="0.04" textLength="19.15" lengthAdjust="spacingAndGlyphs" style="font-size:37.14px">y</tspan></text>
<text transform="translate(553.75 622.00) scale(1.1125 1)"><tspan x="-0.26" y="-0.14" textLength="11.66" lengthAdjust="spacingAndGlyphs" style="font-size:42.23px">t</tspan><tspan x="13.55" y="0.00" textLength="13.15" lengthAdjust="spacingAndGlyphs" style="font-size:37.12px">r</tspan><tspan x="26.95" y="-0.07" textLength="16.43" lengthAdjust="spacingAndGlyphs" style="font-size:37.40px">e</tspan><tspan x="43.70" y="0.00" textLength="19.20" lengthAdjust="spacingAndGlyphs" style="font-size:37.12px">n</tspan><tspan x="62.95" y="-0.10" textLength="19.60" lengthAdjust="spacingAndGlyphs" style="font-size:38.78px">d</tspan><tspan x="82.87" y="-0.07" textLength="14.32" lengthAdjust="spacingAndGlyphs" style="font-size:37.40px">s</tspan></text>
<text transform="translate(763.89 622.00) scale(1.0177 1)"><tspan x="-0.99" y="0.00" textLength="28.59" lengthAdjust="spacingAndGlyphs" style="font-size:40.41px">N</tspan><tspan x="27.64" y="-0.07" textLength="20.39" lengthAdjust="spacingAndGlyphs" style="font-size:37.40px">o</tspan></text>
<text transform="translate(941.89 622.00) scale(1.0177 1)"><tspan x="-0.99" y="0.00" textLength="28.59" lengthAdjust="spacingAndGlyphs" style="font-size:40.41px">N</tspan><tspan x="27.64" y="-0.07" textLength="20.39" lengthAdjust="spacingAndGlyphs" style="font-size:37.40px">o</tspan></text>
<text transform="translate(1155.29 622.00) scale(1.0177 1)"><tspan x="-0.99" y="0.00" textLength="28.59" lengthAdjust="spacingAndGlyphs" style="font-size:40.41px">N</tspan><tspan x="27.64" y="-0.07" textLength="20.39" lengthAdjust="spacingAndGlyphs" style="font-size:37.40px">o</tspan></text>
<text transform="translate(1383.01 622.00) scale(1.0343 1)"><tspan x="-0.51" y="0.00" textLength="29.44" lengthAdjust="spacingAndGlyphs" style="font-size:40.41px">Y</tspan><tspan x="28.08" y="-0.07" textLength="17.67" lengthAdjust="spacingAndGlyphs" style="font-size:37.40px">e</tspan><tspan x="42.19" y="-0.07" textLength="15.40" lengthAdjust="spacingAndGlyphs" style="font-size:37.40px">s</tspan></text>
<text transform="translate(1605.79 622.00) scale(1.0177 1)"><tspan x="-0.99" y="0.00" textLength="28.59" lengthAdjust="spacingAndGlyphs" style="font-size:40.41px">N</tspan><tspan x="27.64" y="-0.07" textLength="20.39" lengthAdjust="spacingAndGlyphs" style="font-size:37.40px">o</tspan></text>
<text transform="translate(1805.89 622.00) scale(1.0177 1)"><tspan x="-0.99" y="0.00" textLength="28.59" lengthAdjust="spacingAndGlyphs" style="font-size:40.41px">N</tspan><tspan x="27.64" y="-0.07" textLength="20.39" lengthAdjust="spacingAndGlyphs" style="font-size:37.40px">o</tspan></text>
<text transform="translate(75.25 669.00) scale(1.0852 1)"><tspan x="-2.64" y="0.35" textLength="21.38" lengthAdjust="spacingAndGlyphs" style="font-size:41.88px">S</tspan><tspan x="19.37" y="-0.00" textLength="25.49" lengthAdjust="spacingAndGlyphs" style="font-size:41.93px">A</tspan><tspan x="44.92" y="-0.80" textLength="12.34" lengthAdjust="spacingAndGlyphs" style="font-size:32.00px">-</tspan><tspan x="59.18" y="-0.10" textLength="19.55" lengthAdjust="spacingAndGlyphs" style="font-size:38.78px">b</tspan><tspan x="78.76" y="0.04" textLength="18.45" lengthAdjust="spacingAndGlyphs" style="font-size:37.14px">y</tspan><tspan x="95.92" y="-0.80" textLength="12.34" lengthAdjust="spacingAndGlyphs" style="font-size:32.00px">-</tspan><tspan x="109.63" y="0.00" textLength="32.85" lengthAdjust="spacingAndGlyphs" style="font-size:40.41px">M</tspan><tspan x="142.42" y="-0.07" textLength="19.12" lengthAdjust="spacingAndGlyphs" style="font-size:37.40px">o</tspan><tspan x="161.66" y="0.00" textLength="19.68" lengthAdjust="spacingAndGlyphs" style="font-size:37.12px">n</tspan><tspan x="182.00" y="-0.14" textLength="11.96" lengthAdjust="spacingAndGlyphs" style="font-size:42.23px">t</tspan><tspan x="195.83" y="0.00" textLength="19.17" lengthAdjust="spacingAndGlyphs" style="font-size:38.92px">h</tspan><tspan x="217.31" y="5.89" textLength="14.38" lengthAdjust="spacingAndGlyphs" style="font-size:48.00px">/</tspan><tspan x="233.54" y="0.00" textLength="28.06" lengthAdjust="spacingAndGlyphs" style="font-size:40.41px">Y</tspan><tspan x="260.78" y="-0.07" textLength="16.84" lengthAdjust="spacingAndGlyphs" style="font-size:37.40px">e</tspan><tspan x="274.35" y="-0.08" textLength="18.34" lengthAdjust="spacingAndGlyphs" style="font-size:37.88px">a</tspan><tspan x="293.06" y="0.00" textLength="13.48" lengthAdjust="spacingAndGlyphs" style="font-size:37.12px">r</tspan></text>
<text transform="translate(422.51 669.00) scale(1.0645 1)"><tspan x="-1.09" y="0.00" textLength="24.35" lengthAdjust="spacingAndGlyphs" style="font-size:40.26px">F</tspan><tspan x="23.83" y="0.00" textLength="9.17" lengthAdjust="spacingAndGlyphs" style="font-size:38.41px">i</tspan><tspan x="33.86" y="0.00" textLength="19.54" lengthAdjust="spacingAndGlyphs" style="font-size:37.05px">x</tspan><tspan x="52.98" y="-0.07" textLength="17.17" lengthAdjust="spacingAndGlyphs" style="font-size:37.40px">e</tspan><tspan x="69.80" y="-0.10" textLength="20.49" lengthAdjust="spacingAndGlyphs" style="font-size:38.78px">d</tspan></text>
<text transform="translate(533.08 669.00) scale(1.0365 1)"><tspan x="-1.11" y="0.00" textLength="27.09" lengthAdjust="spacingAndGlyphs" style="font-size:40.26px">E</tspan><tspan x="24.88" y="0.00" textLength="13.87" lengthAdjust="spacingAndGlyphs" style="font-size:38.78px">f</tspan><tspan x="36.65" y="0.00" textLength="13.87" lengthAdjust="spacingAndGlyphs" style="font-size:38.78px">f</tspan><tspan x="46.92" y="-0.07" textLength="17.63" lengthAdjust="spacingAndGlyphs" style="font-size:37.40px">e</tspan><tspan x="64.30" y="-0.07" textLength="17.29" lengthAdjust="spacingAndGlyphs" style="font-size:37.40px">c</tspan><tspan x="81.88" y="-0.14" textLength="12.52" lengthAdjust="spacingAndGlyphs" style="font-size:42.23px">t</tspan><tspan x="96.21" y="-0.07" textLength="15.37" lengthAdjust="spacingAndGlyphs" style="font-size:37.40px">s</tspan></text>
<text transform="translate(763.89 669.00) scale(1.0177 1)"><tspan x="-0.99" y="0.00" textLength="28.59" lengthAdjust="spacingAndGlyphs" style="font-size:40.41px">N</tspan><tspan x="27.64" y="-0.07" textLength="20.39" lengthAdjust="spacingAndGlyphs" style="font-size:37.40px">o</tspan></text>
<text transform="translate(941.89 669.00) scale(1.0177 1)"><tspan x="-0.99" y="0.00" textLength="28.59" lengthAdjust="spacingAndGlyphs" style="font-size:40.41px">N</tspan><tspan x="27.64" y="-0.07" textLength="20.39" lengthAdjust="spacingAndGlyphs" style="font-size:37.40px">o</tspan></text>
<text transform="translate(1155.29 669.00) scale(1.0177 1)"><tspan x="-0.99" y="0.00" textLength="28.59" lengthAdjust="spacingAndGlyphs" style="font-size:40.41px">N</tspan><tspan x="27.64" y="-0.07" textLength="20.39" lengthAdjust="spacingAndGlyphs" style="font-size:37.40px">o</tspan></text>
<text transform="translate(1388.99 669.00) scale(1.0177 1)"><tspan x="-0.99" y="0.00" textLength="28.59" lengthAdjust="spacingAndGlyphs" style="font-size:40.41px">N</tspan><tspan x="27.64" y="-0.07" textLength="20.39" lengthAdjust="spacingAndGlyphs" style="font-size:37.40px">o</tspan></text>
<text transform="translate(1599.81 669.00) scale(1.0343 1)"><tspan x="-0.51" y="0.00" textLength="29.44" lengthAdjust="spacingAndGlyphs" style="font-size:40.41px">Y</tspan><tspan x="28.08" y="-0.07" textLength="17.67" lengthAdjust="spacingAndGlyphs" style="font-size:37.40px">e</tspan><tspan x="42.19" y="-0.07" textLength="15.40" lengthAdjust="spacingAndGlyphs" style="font-size:37.40px">s</tspan></text>
<text transform="translate(1799.91 669.00) scale(1.0343 1)"><tspan x="-0.51" y="0.00" textLength="29.44" lengthAdjust="spacingAndGlyphs" style="font-size:40.41px">Y</tspan><tspan x="28.08" y="-0.07" textLength="17.67" lengthAdjust="spacingAndGlyphs" style="font-size:37.40px">e</tspan><tspan x="42.19" y="-0.07" textLength="15.40" lengthAdjust="spacingAndGlyphs" style="font-size:37.40px">s</tspan></text>
<text transform="translate(75.25 716.00) scale(1.0289 1)"><tspan x="-1.00" y="-0.25" textLength="26.76" lengthAdjust="spacingAndGlyphs" style="font-size:40.03px">B</tspan><tspan x="25.62" y="-0.07" textLength="20.16" lengthAdjust="spacingAndGlyphs" style="font-size:37.40px">o</tspan><tspan x="45.70" y="0.00" textLength="14.21" lengthAdjust="spacingAndGlyphs" style="font-size:37.12px">r</tspan><tspan x="60.17" y="-0.07" textLength="20.16" lengthAdjust="spacingAndGlyphs" style="font-size:37.40px">o</tspan><tspan x="80.72" y="-0.08" textLength="20.76" lengthAdjust="spacingAndGlyphs" style="font-size:37.96px">u</tspan><tspan x="100.81" y="0.33" textLength="20.25" lengthAdjust="spacingAndGlyphs" style="font-size:35.83px">g</tspan><tspan x="121.89" y="0.00" textLength="20.22" lengthAdjust="spacingAndGlyphs" style="font-size:38.92px">h</tspan><tspan x="141.34" y="-0.80" textLength="13.02" lengthAdjust="spacingAndGlyphs" style="font-size:32.00px">-</tspan><tspan x="154.65" y="0.35" textLength="22.55" lengthAdjust="spacingAndGlyphs" style="font-size:41.88px">S</tspan><tspan x="177.38" y="-0.15" textLength="21.19" lengthAdjust="spacingAndGlyphs" style="font-size:36.81px">p</tspan><tspan x="197.95" y="-0.07" textLength="17.76" lengthAdjust="spacingAndGlyphs" style="font-size:37.40px">e</tspan><tspan x="216.55" y="-0.07" textLength="17.42" lengthAdjust="spacingAndGlyphs" style="font-size:37.40px">c</tspan><tspan x="234.48" y="0.00" textLength="9.49" lengthAdjust="spacingAndGlyphs" style="font-size:38.41px">i</tspan><tspan x="244.57" y="0.00" textLength="13.97" lengthAdjust="spacingAndGlyphs" style="font-size:38.78px">f</tspan><tspan x="257.10" y="0.00" textLength="9.49" lengthAdjust="spacingAndGlyphs" style="font-size:38.41px">i</tspan><tspan x="266.04" y="-0.07" textLength="17.42" lengthAdjust="spacingAndGlyphs" style="font-size:37.40px">c</tspan></text>
<text transform="translate(380.50 716.00) scale(1.0571 1)"><tspan x="-0.66" y="0.00" textLength="9.81" lengthAdjust="spacingAndGlyphs" style="font-size:38.92px">l</tspan><tspan x="9.86" y="0.00" textLength="9.24" lengthAdjust="spacingAndGlyphs" style="font-size:38.41px">i</tspan><tspan x="20.20" y="0.00" textLength="20.21" lengthAdjust="spacingAndGlyphs" style="font-size:37.12px">n</tspan><tspan x="40.27" y="-0.07" textLength="17.29" lengthAdjust="spacingAndGlyphs" style="font-size:37.40px">e</tspan><tspan x="57.33" y="-0.08" textLength="18.82" lengthAdjust="spacingAndGlyphs" style="font-size:37.88px">a</tspan><tspan x="76.54" y="0.00" textLength="13.83" lengthAdjust="spacingAndGlyphs" style="font-size:37.12px">r</tspan></text>
<text transform="translate(489.86 716.00) scale(1.0459 1)"><tspan x="-0.48" y="0.04" textLength="19.15" lengthAdjust="spacingAndGlyphs" style="font-size:37.14px">y</tspan><tspan x="19.02" y="-0.07" textLength="17.47" lengthAdjust="spacingAndGlyphs" style="font-size:37.40px">e</tspan><tspan x="35.20" y="-0.08" textLength="19.02" lengthAdjust="spacingAndGlyphs" style="font-size:37.88px">a</tspan><tspan x="54.61" y="0.00" textLength="13.98" lengthAdjust="spacingAndGlyphs" style="font-size:37.12px">r</tspan><tspan x="69.85" y="0.00" textLength="9.92" lengthAdjust="spacingAndGlyphs" style="font-size:38.92px">l</tspan><tspan x="80.06" y="0.04" textLength="19.15" lengthAdjust="spacingAndGlyphs" style="font-size:37.14px">y</tspan></text>
<text transform="translate(607.55 716.00) scale(1.1125 1)"><tspan x="-0.26" y="-0.14" textLength="11.66" lengthAdjust="spacingAndGlyphs" style="font-size:42.23px">t</tspan><tspan x="13.55" y="0.00" textLength="13.15" lengthAdjust="spacingAndGlyphs" style="font-size:37.12px">r</tspan><tspan x="26.95" y="-0.07" textLength="16.43" lengthAdjust="spacingAndGlyphs" style="font-size:37.40px">e</tspan><tspan x="43.70" y="0.00" textLength="19.20" lengthAdjust="spacingAndGlyphs" style="font-size:37.12px">n</tspan><tspan x="62.95" y="-0.10" textLength="19.60" lengthAdjust="spacingAndGlyphs" style="font-size:38.78px">d</tspan><tspan x="82.87" y="-0.07" textLength="14.32" lengthAdjust="spacingAndGlyphs" style="font-size:37.40px">s</tspan></text>
<text transform="translate(763.89 716.00) scale(1.0177 1)"><tspan x="-0.99" y="0.00" textLength="28.59" lengthAdjust="spacingAndGlyphs" style="font-size:40.41px">N</tspan><tspan x="27.64" y="-0.07" textLength="20.39" lengthAdjust="spacingAndGlyphs" style="font-size:37.40px">o</tspan></text>
<text transform="translate(941.89 716.00) scale(1.0177 1)"><tspan x="-0.99" y="0.00" textLength="28.59" lengthAdjust="spacingAndGlyphs" style="font-size:40.41px">N</tspan><tspan x="27.64" y="-0.07" textLength="20.39" lengthAdjust="spacingAndGlyphs" style="font-size:37.40px">o</tspan></text>
<text transform="translate(1155.29 716.00) scale(1.0177 1)"><tspan x="-0.99" y="0.00" textLength="28.59" lengthAdjust="spacingAndGlyphs" style="font-size:40.41px">N</tspan><tspan x="27.64" y="-0.07" textLength="20.39" lengthAdjust="spacingAndGlyphs" style="font-size:37.40px">o</tspan></text>
<text transform="translate(1388.99 716.00) scale(1.0177 1)"><tspan x="-0.99" y="0.00" textLength="28.59" lengthAdjust="spacingAndGlyphs" style="font-size:40.41px">N</tspan><tspan x="27.64" y="-0.07" textLength="20.39" lengthAdjust="spacingAndGlyphs" style="font-size:37.40px">o</tspan></text>
<text transform="translate(1605.79 716.00) scale(1.0177 1)"><tspan x="-0.99" y="0.00" textLength="28.59" lengthAdjust="spacingAndGlyphs" style="font-size:40.41px">N</tspan><tspan x="27.64" y="-0.07" textLength="20.39" lengthAdjust="spacingAndGlyphs" style="font-size:37.40px">o</tspan></text>
<text transform="translate(1799.91 716.00) scale(1.0343 1)"><tspan x="-0.51" y="0.00" textLength="29.44" lengthAdjust="spacingAndGlyphs" style="font-size:40.41px">Y</tspan><tspan x="28.08" y="-0.07" textLength="17.67" lengthAdjust="spacingAndGlyphs" style="font-size:37.40px">e</tspan><tspan x="42.19" y="-0.07" textLength="15.40" lengthAdjust="spacingAndGlyphs" style="font-size:37.40px">s</tspan></text>
<text transform="translate(74.95 783.00) scale(1.0497 1)"><tspan x="-0.95" y="0.00" textLength="33.96" lengthAdjust="spacingAndGlyphs" style="font-size:40.41px">M</tspan><tspan x="32.96" y="-0.07" textLength="17.41" lengthAdjust="spacingAndGlyphs" style="font-size:37.40px">e</tspan><tspan x="50.14" y="-0.08" textLength="18.96" lengthAdjust="spacingAndGlyphs" style="font-size:37.88px">a</tspan><tspan x="69.70" y="0.00" textLength="20.35" lengthAdjust="spacingAndGlyphs" style="font-size:37.12px">n</tspan></text>
<text transform="translate(183.77 783.00) scale(1.0417 1)"><tspan x="-1.49" y="-0.07" textLength="19.91" lengthAdjust="spacingAndGlyphs" style="font-size:37.40px">o</tspan><tspan x="18.02" y="0.00" textLength="13.80" lengthAdjust="spacingAndGlyphs" style="font-size:38.78px">f</tspan></text>
<text transform="translate(228.79 783.00) scale(1.0656 1)"><tspan x="-1.46" y="-0.07" textLength="19.47" lengthAdjust="spacingAndGlyphs" style="font-size:37.40px">o</tspan><tspan x="18.38" y="-0.08" textLength="20.04" lengthAdjust="spacingAndGlyphs" style="font-size:37.96px">u</tspan><tspan x="38.84" y="-0.14" textLength="12.18" lengthAdjust="spacingAndGlyphs" style="font-size:42.23px">t</tspan><tspan x="52.90" y="-0.07" textLength="16.82" lengthAdjust="spacingAndGlyphs" style="font-size:37.40px">c</tspan><tspan x="69.18" y="-0.07" textLength="19.47" lengthAdjust="spacingAndGlyphs" style="font-size:37.40px">o</tspan><tspan x="88.79" y="0.00" textLength="30.51" lengthAdjust="spacingAndGlyphs" style="font-size:37.12px">m</tspan><tspan x="119.04" y="-0.07" textLength="17.15" lengthAdjust="spacingAndGlyphs" style="font-size:37.40px">e</tspan></text>
<text transform="translate(743.61 783.00) scale(1.0133 1)"><tspan x="-1.47" y="0.38" textLength="19.55" lengthAdjust="spacingAndGlyphs" style="font-size:39.21px">0</tspan><tspan x="19.42" y="-0.43" textLength="8.46" lengthAdjust="spacingAndGlyphs" style="font-size:34.35px">.</tspan><tspan x="29.13" y="0.38" textLength="19.55" lengthAdjust="spacingAndGlyphs" style="font-size:39.21px">0</tspan><tspan x="49.03" y="0.00" textLength="19.66" lengthAdjust="spacingAndGlyphs" style="font-size:39.00px">2</tspan><tspan x="68.05" y="0.87" textLength="20.50" lengthAdjust="spacingAndGlyphs" style="font-size:41.30px">7</tspan></text>
<text transform="translate(921.61 783.00) scale(1.0133 1)"><tspan x="-1.47" y="0.38" textLength="19.55" lengthAdjust="spacingAndGlyphs" style="font-size:39.21px">0</tspan><tspan x="19.42" y="-0.43" textLength="8.46" lengthAdjust="spacingAndGlyphs" style="font-size:34.35px">.</tspan><tspan x="29.13" y="0.38" textLength="19.55" lengthAdjust="spacingAndGlyphs" style="font-size:39.21px">0</tspan><tspan x="49.03" y="0.00" textLength="19.66" lengthAdjust="spacingAndGlyphs" style="font-size:39.00px">2</tspan><tspan x="68.05" y="0.87" textLength="20.50" lengthAdjust="spacingAndGlyphs" style="font-size:41.30px">7</tspan></text>
<text transform="translate(1135.01 783.00) scale(1.0031 1)"><tspan x="-1.48" y="0.38" textLength="19.75" lengthAdjust="spacingAndGlyphs" style="font-size:39.21px">0</tspan><tspan x="19.61" y="-0.43" textLength="8.54" lengthAdjust="spacingAndGlyphs" style="font-size:34.35px">.</tspan><tspan x="29.43" y="0.38" textLength="19.75" lengthAdjust="spacingAndGlyphs" style="font-size:39.21px">0</tspan><tspan x="49.07" y="0.37" textLength="19.56" lengthAdjust="spacingAndGlyphs" style="font-size:39.94px">5</tspan><tspan x="68.93" y="0.37" textLength="19.56" lengthAdjust="spacingAndGlyphs" style="font-size:39.94px">5</tspan></text>
<text transform="translate(1368.71 783.00) scale(1.0031 1)"><tspan x="-1.48" y="0.38" textLength="19.75" lengthAdjust="spacingAndGlyphs" style="font-size:39.21px">0</tspan><tspan x="19.61" y="-0.43" textLength="8.54" lengthAdjust="spacingAndGlyphs" style="font-size:34.35px">.</tspan><tspan x="29.43" y="0.38" textLength="19.75" lengthAdjust="spacingAndGlyphs" style="font-size:39.21px">0</tspan><tspan x="49.07" y="0.37" textLength="19.56" lengthAdjust="spacingAndGlyphs" style="font-size:39.94px">5</tspan><tspan x="68.93" y="0.37" textLength="19.56" lengthAdjust="spacingAndGlyphs" style="font-size:39.94px">5</tspan></text>
<text transform="translate(1585.51 783.00) scale(1.0031 1)"><tspan x="-1.48" y="0.38" textLength="19.75" lengthAdjust="spacingAndGlyphs" style="font-size:39.21px">0</tspan><tspan x="19.61" y="-0.43" textLength="8.54" lengthAdjust="spacingAndGlyphs" style="font-size:34.35px">.</tspan><tspan x="29.43" y="0.38" textLength="19.75" lengthAdjust="spacingAndGlyphs" style="font-size:39.21px">0</tspan><tspan x="49.07" y="0.37" textLength="19.56" lengthAdjust="spacingAndGlyphs" style="font-size:39.94px">5</tspan><tspan x="68.93" y="0.37" textLength="19.56" lengthAdjust="spacingAndGlyphs" style="font-size:39.94px">5</tspan></text>
<text transform="translate(1785.61 783.00) scale(1.0031 1)"><tspan x="-1.48" y="0.38" textLength="19.75" lengthAdjust="spacingAndGlyphs" style="font-size:39.21px">0</tspan><tspan x="19.61" y="-0.43" textLength="8.54" lengthAdjust="spacingAndGlyphs" style="font-size:34.35px">.</tspan><tspan x="29.43" y="0.38" textLength="19.75" lengthAdjust="spacingAndGlyphs" style="font-size:39.21px">0</tspan><tspan x="49.07" y="0.37" textLength="19.56" lengthAdjust="spacingAndGlyphs" style="font-size:39.94px">5</tspan><tspan x="68.93" y="0.37" textLength="19.56" lengthAdjust="spacingAndGlyphs" style="font-size:39.94px">5</tspan></text>
<text transform="translate(74.95 830.00) scale(1.0665 1)"><tspan x="-0.94" y="0.00" textLength="27.28" lengthAdjust="spacingAndGlyphs" style="font-size:40.41px">N</tspan><tspan x="27.52" y="-0.08" textLength="20.03" lengthAdjust="spacingAndGlyphs" style="font-size:37.96px">u</tspan><tspan x="48.06" y="0.00" textLength="30.48" lengthAdjust="spacingAndGlyphs" style="font-size:37.12px">m</tspan><tspan x="79.74" y="-0.10" textLength="19.89" lengthAdjust="spacingAndGlyphs" style="font-size:38.78px">b</tspan><tspan x="98.02" y="-0.07" textLength="17.14" lengthAdjust="spacingAndGlyphs" style="font-size:37.40px">e</tspan><tspan x="116.33" y="0.00" textLength="13.71" lengthAdjust="spacingAndGlyphs" style="font-size:37.12px">r</tspan></text>
<text transform="translate(228.23 830.00) scale(1.0417 1)"><tspan x="-1.49" y="-0.07" textLength="19.91" lengthAdjust="spacingAndGlyphs" style="font-size:37.40px">o</tspan><tspan x="18.02" y="0.00" textLength="13.80" lengthAdjust="spacingAndGlyphs" style="font-size:38.78px">f</tspan></text>
<text transform="translate(272.72 830.00) scale(1.1521 1)"><tspan x="-0.25" y="-0.14" textLength="11.26" lengthAdjust="spacingAndGlyphs" style="font-size:42.23px">t</tspan><tspan x="13.09" y="0.00" textLength="12.69" lengthAdjust="spacingAndGlyphs" style="font-size:37.12px">r</tspan><tspan x="26.32" y="-0.08" textLength="17.27" lengthAdjust="spacingAndGlyphs" style="font-size:37.88px">a</tspan><tspan x="43.60" y="-0.07" textLength="15.56" lengthAdjust="spacingAndGlyphs" style="font-size:37.40px">c</tspan><tspan x="59.41" y="-0.14" textLength="11.26" lengthAdjust="spacingAndGlyphs" style="font-size:42.23px">t</tspan><tspan x="72.30" y="-0.07" textLength="13.83" lengthAdjust="spacingAndGlyphs" style="font-size:37.40px">s</tspan></text>
<text transform="translate(743.80 830.00) scale(1.0112 1)"><tspan x="-1.98" y="0.38" textLength="19.82" lengthAdjust="spacingAndGlyphs" style="font-size:39.57px">3</tspan><tspan x="20.22" y="0.60" textLength="7.72" lengthAdjust="spacingAndGlyphs" style="font-size:44.03px">,</tspan><tspan x="28.99" y="0.38" textLength="19.59" lengthAdjust="spacingAndGlyphs" style="font-size:39.21px">0</tspan><tspan x="48.93" y="0.00" textLength="19.70" lengthAdjust="spacingAndGlyphs" style="font-size:39.00px">2</tspan><tspan x="68.40" y="0.38" textLength="19.59" lengthAdjust="spacingAndGlyphs" style="font-size:39.21px">0</tspan></text>
<text transform="translate(921.80 830.00) scale(1.0112 1)"><tspan x="-1.98" y="0.38" textLength="19.82" lengthAdjust="spacingAndGlyphs" style="font-size:39.57px">3</tspan><tspan x="20.22" y="0.60" textLength="7.72" lengthAdjust="spacingAndGlyphs" style="font-size:44.03px">,</tspan><tspan x="28.99" y="0.38" textLength="19.59" lengthAdjust="spacingAndGlyphs" style="font-size:39.21px">0</tspan><tspan x="48.93" y="0.00" textLength="19.70" lengthAdjust="spacingAndGlyphs" style="font-size:39.00px">2</tspan><tspan x="68.40" y="0.38" textLength="19.59" lengthAdjust="spacingAndGlyphs" style="font-size:39.21px">0</tspan></text>
<text transform="translate(1160.67 830.00) scale(0.9789 1)"><tspan x="-1.49" y="0.38" textLength="19.88" lengthAdjust="spacingAndGlyphs" style="font-size:39.21px">8</tspan><tspan x="18.62" y="0.38" textLength="19.88" lengthAdjust="spacingAndGlyphs" style="font-size:39.57px">6</tspan></text>
<text transform="translate(1394.37 830.00) scale(0.9789 1)"><tspan x="-1.49" y="0.38" textLength="19.88" lengthAdjust="spacingAndGlyphs" style="font-size:39.21px">8</tspan><tspan x="18.62" y="0.38" textLength="19.88" lengthAdjust="spacingAndGlyphs" style="font-size:39.57px">6</tspan></text>
<text transform="translate(1611.17 830.00) scale(0.9789 1)"><tspan x="-1.49" y="0.38" textLength="19.88" lengthAdjust="spacingAndGlyphs" style="font-size:39.21px">8</tspan><tspan x="18.62" y="0.38" textLength="19.88" lengthAdjust="spacingAndGlyphs" style="font-size:39.57px">6</tspan></text>
<text transform="translate(1811.27 830.00) scale(0.9789 1)"><tspan x="-1.49" y="0.38" textLength="19.88" lengthAdjust="spacingAndGlyphs" style="font-size:39.21px">8</tspan><tspan x="18.62" y="0.38" textLength="19.88" lengthAdjust="spacingAndGlyphs" style="font-size:39.57px">6</tspan></text>
<text transform="translate(74.95 877.00) scale(1.0665 1)"><tspan x="-0.94" y="0.00" textLength="27.28" lengthAdjust="spacingAndGlyphs" style="font-size:40.41px">N</tspan><tspan x="27.52" y="-0.08" textLength="20.03" lengthAdjust="spacingAndGlyphs" style="font-size:37.96px">u</tspan><tspan x="48.06" y="0.00" textLength="30.48" lengthAdjust="spacingAndGlyphs" style="font-size:37.12px">m</tspan><tspan x="79.74" y="-0.10" textLength="19.89" lengthAdjust="spacingAndGlyphs" style="font-size:38.78px">b</tspan><tspan x="98.02" y="-0.07" textLength="17.14" lengthAdjust="spacingAndGlyphs" style="font-size:37.40px">e</tspan><tspan x="116.33" y="0.00" textLength="13.71" lengthAdjust="spacingAndGlyphs" style="font-size:37.12px">r</tspan></text>
<text transform="translate(228.09 877.00) scale(1.0417 1)"><tspan x="-1.49" y="-0.07" textLength="19.91" lengthAdjust="spacingAndGlyphs" style="font-size:37.40px">o</tspan><tspan x="18.02" y="0.00" textLength="13.80" lengthAdjust="spacingAndGlyphs" style="font-size:38.78px">f</tspan></text>
<text transform="translate(273.23 877.00) scale(1.0690 1)"><tspan x="-0.94" y="0.00" textLength="33.34" lengthAdjust="spacingAndGlyphs" style="font-size:40.41px">M</tspan><tspan x="32.35" y="-0.07" textLength="19.41" lengthAdjust="spacingAndGlyphs" style="font-size:37.40px">o</tspan><tspan x="51.88" y="0.00" textLength="19.98" lengthAdjust="spacingAndGlyphs" style="font-size:37.12px">n</tspan><tspan x="72.53" y="-0.14" textLength="12.14" lengthAdjust="spacingAndGlyphs" style="font-size:42.23px">t</tspan><tspan x="86.57" y="0.00" textLength="19.46" lengthAdjust="spacingAndGlyphs" style="font-size:38.92px">h</tspan><tspan x="106.11" y="-0.07" textLength="14.90" lengthAdjust="spacingAndGlyphs" style="font-size:37.40px">s</tspan></text>
<text transform="translate(769.27 877.00) scale(0.9708 1)"><tspan x="-1.23" y="0.38" textLength="19.75" lengthAdjust="spacingAndGlyphs" style="font-size:39.57px">9</tspan><tspan x="18.56" y="0.37" textLength="20.21" lengthAdjust="spacingAndGlyphs" style="font-size:39.94px">5</tspan></text>
<text transform="translate(947.27 877.00) scale(0.9708 1)"><tspan x="-1.23" y="0.38" textLength="19.75" lengthAdjust="spacingAndGlyphs" style="font-size:39.57px">9</tspan><tspan x="18.56" y="0.37" textLength="20.21" lengthAdjust="spacingAndGlyphs" style="font-size:39.94px">5</tspan></text>
<text transform="translate(1160.67 877.00) scale(0.9708 1)"><tspan x="-1.23" y="0.38" textLength="19.75" lengthAdjust="spacingAndGlyphs" style="font-size:39.57px">9</tspan><tspan x="18.56" y="0.37" textLength="20.21" lengthAdjust="spacingAndGlyphs" style="font-size:39.94px">5</tspan></text>
<text transform="translate(1394.37 877.00) scale(0.9708 1)"><tspan x="-1.23" y="0.38" textLength="19.75" lengthAdjust="spacingAndGlyphs" style="font-size:39.57px">9</tspan><tspan x="18.56" y="0.37" textLength="20.21" lengthAdjust="spacingAndGlyphs" style="font-size:39.94px">5</tspan></text>
<text transform="translate(1611.17 877.00) scale(0.9708 1)"><tspan x="-1.23" y="0.38" textLength="19.75" lengthAdjust="spacingAndGlyphs" style="font-size:39.57px">9</tspan><tspan x="18.56" y="0.37" textLength="20.21" lengthAdjust="spacingAndGlyphs" style="font-size:39.94px">5</tspan></text>
<text transform="translate(1811.27 877.00) scale(0.9708 1)"><tspan x="-1.23" y="0.38" textLength="19.75" lengthAdjust="spacingAndGlyphs" style="font-size:39.57px">9</tspan><tspan x="18.56" y="0.37" textLength="20.21" lengthAdjust="spacingAndGlyphs" style="font-size:39.94px">5</tspan></text>
<text transform="translate(74.95 924.00) scale(1.0649 1)"><tspan x="-1.45" y="0.35" textLength="27.92" lengthAdjust="spacingAndGlyphs" style="font-size:41.88px">O</tspan><tspan x="28.09" y="-0.10" textLength="19.92" lengthAdjust="spacingAndGlyphs" style="font-size:38.78px">b</tspan><tspan x="47.64" y="-0.07" textLength="14.96" lengthAdjust="spacingAndGlyphs" style="font-size:37.40px">s</tspan><tspan x="62.19" y="-0.07" textLength="17.16" lengthAdjust="spacingAndGlyphs" style="font-size:37.40px">e</tspan><tspan x="79.48" y="0.00" textLength="13.73" lengthAdjust="spacingAndGlyphs" style="font-size:37.12px">r</tspan><tspan x="94.54" y="-0.06" textLength="18.34" lengthAdjust="spacingAndGlyphs" style="font-size:36.91px">v</tspan><tspan x="113.55" y="-0.08" textLength="18.69" lengthAdjust="spacingAndGlyphs" style="font-size:37.88px">a</tspan><tspan x="130.64" y="-0.14" textLength="12.19" lengthAdjust="spacingAndGlyphs" style="font-size:42.23px">t</tspan><tspan x="145.42" y="0.00" textLength="9.17" lengthAdjust="spacingAndGlyphs" style="font-size:38.41px">i</tspan><tspan x="154.79" y="-0.07" textLength="19.48" lengthAdjust="spacingAndGlyphs" style="font-size:37.40px">o</tspan><tspan x="174.40" y="0.00" textLength="20.06" lengthAdjust="spacingAndGlyphs" style="font-size:37.12px">n</tspan><tspan x="194.51" y="-0.07" textLength="14.96" lengthAdjust="spacingAndGlyphs" style="font-size:37.40px">s</tspan></text>
<text transform="translate(724.18 924.00) scale(1.0021 1)"><tspan x="-1.74" y="0.00" textLength="19.88" lengthAdjust="spacingAndGlyphs" style="font-size:39.00px">2</tspan><tspan x="18.13" y="0.38" textLength="19.41" lengthAdjust="spacingAndGlyphs" style="font-size:39.21px">8</tspan><tspan x="37.77" y="0.38" textLength="19.41" lengthAdjust="spacingAndGlyphs" style="font-size:39.57px">6</tspan><tspan x="59.87" y="0.60" textLength="7.79" lengthAdjust="spacingAndGlyphs" style="font-size:44.03px">,</tspan><tspan x="69.21" y="0.38" textLength="19.13" lengthAdjust="spacingAndGlyphs" style="font-size:39.57px">9</tspan><tspan x="88.60" y="0.38" textLength="19.77" lengthAdjust="spacingAndGlyphs" style="font-size:39.21px">0</tspan><tspan x="108.49" y="0.38" textLength="19.77" lengthAdjust="spacingAndGlyphs" style="font-size:39.21px">0</tspan></text>
<text transform="translate(902.18 924.00) scale(1.0021 1)"><tspan x="-1.74" y="0.00" textLength="19.88" lengthAdjust="spacingAndGlyphs" style="font-size:39.00px">2</tspan><tspan x="18.13" y="0.38" textLength="19.41" lengthAdjust="spacingAndGlyphs" style="font-size:39.21px">8</tspan><tspan x="37.77" y="0.38" textLength="19.41" lengthAdjust="spacingAndGlyphs" style="font-size:39.57px">6</tspan><tspan x="59.87" y="0.60" textLength="7.79" lengthAdjust="spacingAndGlyphs" style="font-size:44.03px">,</tspan><tspan x="69.21" y="0.38" textLength="19.13" lengthAdjust="spacingAndGlyphs" style="font-size:39.57px">9</tspan><tspan x="88.60" y="0.38" textLength="19.77" lengthAdjust="spacingAndGlyphs" style="font-size:39.21px">0</tspan><tspan x="108.49" y="0.38" textLength="19.77" lengthAdjust="spacingAndGlyphs" style="font-size:39.21px">0</tspan></text>
<text transform="translate(1135.20 924.00) scale(1.0054 1)"><tspan x="-1.45" y="0.38" textLength="19.35" lengthAdjust="spacingAndGlyphs" style="font-size:39.21px">8</tspan><tspan x="20.34" y="0.60" textLength="7.76" lengthAdjust="spacingAndGlyphs" style="font-size:44.03px">,</tspan><tspan x="29.38" y="0.00" textLength="18.50" lengthAdjust="spacingAndGlyphs" style="font-size:39.00px">1</tspan><tspan x="48.57" y="0.87" textLength="20.66" lengthAdjust="spacingAndGlyphs" style="font-size:41.30px">7</tspan><tspan x="68.80" y="0.38" textLength="19.70" lengthAdjust="spacingAndGlyphs" style="font-size:39.21px">0</tspan></text>
<text transform="translate(1368.90 924.00) scale(1.0054 1)"><tspan x="-1.45" y="0.38" textLength="19.35" lengthAdjust="spacingAndGlyphs" style="font-size:39.21px">8</tspan><tspan x="20.34" y="0.60" textLength="7.76" lengthAdjust="spacingAndGlyphs" style="font-size:44.03px">,</tspan><tspan x="29.38" y="0.00" textLength="18.50" lengthAdjust="spacingAndGlyphs" style="font-size:39.00px">1</tspan><tspan x="48.57" y="0.87" textLength="20.66" lengthAdjust="spacingAndGlyphs" style="font-size:41.30px">7</tspan><tspan x="68.80" y="0.38" textLength="19.70" lengthAdjust="spacingAndGlyphs" style="font-size:39.21px">0</tspan></text>
<text transform="translate(1585.70 924.00) scale(1.0054 1)"><tspan x="-1.45" y="0.38" textLength="19.35" lengthAdjust="spacingAndGlyphs" style="font-size:39.21px">8</tspan><tspan x="20.34" y="0.60" textLength="7.76" lengthAdjust="spacingAndGlyphs" style="font-size:44.03px">,</tspan><tspan x="29.38" y="0.00" textLength="18.50" lengthAdjust="spacingAndGlyphs" style="font-size:39.00px">1</tspan><tspan x="48.57" y="0.87" textLength="20.66" lengthAdjust="spacingAndGlyphs" style="font-size:41.30px">7</tspan><tspan x="68.80" y="0.38" textLength="19.70" lengthAdjust="spacingAndGlyphs" style="font-size:39.21px">0</tspan></text>
<text transform="translate(1785.80 924.00) scale(1.0054 1)"><tspan x="-1.45" y="0.38" textLength="19.35" lengthAdjust="spacingAndGlyphs" style="font-size:39.21px">8</tspan><tspan x="20.34" y="0.60" textLength="7.76" lengthAdjust="spacingAndGlyphs" style="font-size:44.03px">,</tspan><tspan x="29.38" y="0.00" textLength="18.50" lengthAdjust="spacingAndGlyphs" style="font-size:39.00px">1</tspan><tspan x="48.57" y="0.87" textLength="20.66" lengthAdjust="spacingAndGlyphs" style="font-size:41.30px">7</tspan><tspan x="68.80" y="0.38" textLength="19.70" lengthAdjust="spacingAndGlyphs" style="font-size:39.21px">0</tspan></text>
<text transform="translate(27.85 1021.00) scale(1.0394 1)"><tspan x="-0.96" y="0.00" textLength="27.75" lengthAdjust="spacingAndGlyphs" style="font-size:40.41px">N</tspan><tspan x="26.83" y="-0.07" textLength="19.79" lengthAdjust="spacingAndGlyphs" style="font-size:37.40px">o</tspan><tspan x="46.66" y="-0.14" textLength="12.38" lengthAdjust="spacingAndGlyphs" style="font-size:42.23px">t</tspan><tspan x="60.63" y="-0.07" textLength="17.43" lengthAdjust="spacingAndGlyphs" style="font-size:37.40px">e</tspan><tspan x="77.71" y="-0.07" textLength="15.20" lengthAdjust="spacingAndGlyphs" style="font-size:37.40px">s</tspan><tspan x="93.69" y="-0.43" textLength="9.08" lengthAdjust="spacingAndGlyphs" style="font-size:34.72px">:</tspan></text>
<text transform="translate(150.15 1021.00) scale(1.0752 1)"><tspan x="-1.57" y="0.00" textLength="13.94" lengthAdjust="spacingAndGlyphs" style="font-size:40.41px">I</tspan><tspan x="12.46" y="0.00" textLength="19.31" lengthAdjust="spacingAndGlyphs" style="font-size:37.12px">n</tspan></text>
<text transform="translate(199.75 1021.00) scale(1.0663 1)"><tspan x="-0.51" y="-0.15" textLength="20.26" lengthAdjust="spacingAndGlyphs" style="font-size:36.81px">p</tspan><tspan x="19.47" y="-0.08" textLength="18.49" lengthAdjust="spacingAndGlyphs" style="font-size:37.88px">a</tspan><tspan x="38.34" y="0.00" textLength="13.59" lengthAdjust="spacingAndGlyphs" style="font-size:37.12px">r</tspan><tspan x="52.18" y="-0.07" textLength="16.98" lengthAdjust="spacingAndGlyphs" style="font-size:37.40px">e</tspan><tspan x="69.50" y="0.00" textLength="19.85" lengthAdjust="spacingAndGlyphs" style="font-size:37.12px">n</tspan><tspan x="90.01" y="-0.14" textLength="12.06" lengthAdjust="spacingAndGlyphs" style="font-size:42.23px">t</tspan><tspan x="103.96" y="0.00" textLength="19.33" lengthAdjust="spacingAndGlyphs" style="font-size:38.92px">h</tspan><tspan x="123.17" y="-0.07" textLength="16.98" lengthAdjust="spacingAndGlyphs" style="font-size:37.40px">e</tspan><tspan x="139.80" y="-0.07" textLength="14.81" lengthAdjust="spacingAndGlyphs" style="font-size:37.40px">s</tspan><tspan x="155.21" y="0.00" textLength="9.07" lengthAdjust="spacingAndGlyphs" style="font-size:38.41px">i</tspan><tspan x="164.69" y="-0.07" textLength="14.81" lengthAdjust="spacingAndGlyphs" style="font-size:37.40px">s</tspan><tspan x="181.56" y="0.60" textLength="7.25" lengthAdjust="spacingAndGlyphs" style="font-size:44.03px">,</tspan></text>
<text transform="translate(415.65 1021.00) scale(1.1228 1)"><tspan x="-1.36" y="-0.07" textLength="14.11" lengthAdjust="spacingAndGlyphs" style="font-size:37.40px">s</tspan><tspan x="13.12" y="-0.14" textLength="11.49" lengthAdjust="spacingAndGlyphs" style="font-size:42.23px">t</tspan><tspan x="26.39" y="-0.08" textLength="17.62" lengthAdjust="spacingAndGlyphs" style="font-size:37.88px">a</tspan><tspan x="44.57" y="0.00" textLength="18.92" lengthAdjust="spacingAndGlyphs" style="font-size:37.12px">n</tspan><tspan x="63.55" y="-0.10" textLength="19.31" lengthAdjust="spacingAndGlyphs" style="font-size:38.78px">d</tspan><tspan x="83.29" y="-0.08" textLength="17.62" lengthAdjust="spacingAndGlyphs" style="font-size:37.88px">a</tspan><tspan x="101.27" y="0.00" textLength="12.95" lengthAdjust="spacingAndGlyphs" style="font-size:37.12px">r</tspan><tspan x="114.65" y="-0.10" textLength="19.31" lengthAdjust="spacingAndGlyphs" style="font-size:38.78px">d</tspan></text>
<text transform="translate(580.75 1021.00) scale(1.0770 1)"><tspan x="-1.43" y="-0.07" textLength="16.88" lengthAdjust="spacingAndGlyphs" style="font-size:37.40px">e</tspan><tspan x="15.58" y="0.00" textLength="13.50" lengthAdjust="spacingAndGlyphs" style="font-size:37.12px">r</tspan><tspan x="30.00" y="0.00" textLength="13.50" lengthAdjust="spacingAndGlyphs" style="font-size:37.12px">r</tspan><tspan x="43.75" y="-0.07" textLength="19.16" lengthAdjust="spacingAndGlyphs" style="font-size:37.40px">o</tspan><tspan x="62.83" y="0.00" textLength="13.50" lengthAdjust="spacingAndGlyphs" style="font-size:37.12px">r</tspan><tspan x="76.78" y="-0.07" textLength="14.71" lengthAdjust="spacingAndGlyphs" style="font-size:37.40px">s</tspan></text>
<text transform="translate(693.45 1021.00) scale(1.0674 1)"><tspan x="-1.41" y="-0.07" textLength="16.72" lengthAdjust="spacingAndGlyphs" style="font-size:37.40px">c</tspan><tspan x="15.76" y="0.00" textLength="9.68" lengthAdjust="spacingAndGlyphs" style="font-size:38.92px">l</tspan><tspan x="26.25" y="-0.08" textLength="19.93" lengthAdjust="spacingAndGlyphs" style="font-size:37.96px">u</tspan><tspan x="45.99" y="-0.07" textLength="14.87" lengthAdjust="spacingAndGlyphs" style="font-size:37.40px">s</tspan><tspan x="61.24" y="-0.14" textLength="12.11" lengthAdjust="spacingAndGlyphs" style="font-size:42.23px">t</tspan><tspan x="74.91" y="-0.07" textLength="17.05" lengthAdjust="spacingAndGlyphs" style="font-size:37.40px">e</tspan><tspan x="92.09" y="0.00" textLength="13.65" lengthAdjust="spacingAndGlyphs" style="font-size:37.12px">r</tspan><tspan x="105.99" y="-0.07" textLength="17.05" lengthAdjust="spacingAndGlyphs" style="font-size:37.40px">e</tspan><tspan x="122.70" y="-0.10" textLength="20.35" lengthAdjust="spacingAndGlyphs" style="font-size:38.78px">d</tspan></text>
<text transform="translate(861.05 1021.00) scale(1.1382 1)"><tspan x="-1.21" y="-0.08" textLength="17.16" lengthAdjust="spacingAndGlyphs" style="font-size:37.88px">a</tspan><tspan x="16.42" y="-0.14" textLength="11.19" lengthAdjust="spacingAndGlyphs" style="font-size:42.23px">t</tspan></text>
<text transform="translate(909.25 1021.00) scale(1.1196 1)"><tspan x="-0.26" y="-0.14" textLength="11.46" lengthAdjust="spacingAndGlyphs" style="font-size:42.23px">t</tspan><tspan x="13.99" y="0.00" textLength="18.37" lengthAdjust="spacingAndGlyphs" style="font-size:38.92px">h</tspan><tspan x="32.25" y="-0.07" textLength="16.14" lengthAdjust="spacingAndGlyphs" style="font-size:37.40px">e</tspan></text>
<text transform="translate(977.55 1021.00) scale(1.0588 1)"><tspan x="-0.22" y="-0.00" textLength="25.80" lengthAdjust="spacingAndGlyphs" style="font-size:41.93px">A</tspan><tspan x="26.92" y="0.00" textLength="13.64" lengthAdjust="spacingAndGlyphs" style="font-size:37.12px">r</tspan><tspan x="40.81" y="-0.07" textLength="17.04" lengthAdjust="spacingAndGlyphs" style="font-size:37.40px">e</tspan><tspan x="58.19" y="0.00" textLength="19.92" lengthAdjust="spacingAndGlyphs" style="font-size:37.12px">n</tspan><tspan x="78.99" y="0.00" textLength="9.11" lengthAdjust="spacingAndGlyphs" style="font-size:38.41px">i</tspan><tspan x="89.19" y="0.00" textLength="19.92" lengthAdjust="spacingAndGlyphs" style="font-size:37.12px">n</tspan><tspan x="110.35" y="0.00" textLength="19.40" lengthAdjust="spacingAndGlyphs" style="font-size:38.92px">h</tspan><tspan x="129.95" y="-0.08" textLength="18.56" lengthAdjust="spacingAndGlyphs" style="font-size:37.88px">a</tspan></text>
<text transform="translate(1150.55 1021.00) scale(0.9731 1)"><tspan x="-0.71" y="0.00" textLength="10.51" lengthAdjust="spacingAndGlyphs" style="font-size:38.92px">l</tspan><tspan x="9.46" y="-0.07" textLength="18.53" lengthAdjust="spacingAndGlyphs" style="font-size:37.40px">e</tspan><tspan x="28.56" y="-0.06" textLength="19.79" lengthAdjust="spacingAndGlyphs" style="font-size:36.91px">v</tspan><tspan x="48.73" y="-0.07" textLength="18.53" lengthAdjust="spacingAndGlyphs" style="font-size:37.40px">e</tspan><tspan x="66.59" y="0.00" textLength="10.51" lengthAdjust="spacingAndGlyphs" style="font-size:38.92px">l</tspan></text>
<text transform="translate(1242.45 1021.00) scale(1.1198 1)"><tspan x="-1.40" y="0.60" textLength="10.69" lengthAdjust="spacingAndGlyphs" style="font-size:42.87px">(</tspan><tspan x="10.67" y="-0.14" textLength="11.52" lengthAdjust="spacingAndGlyphs" style="font-size:42.23px">t</tspan><tspan x="24.31" y="0.00" textLength="12.98" lengthAdjust="spacingAndGlyphs" style="font-size:37.12px">r</tspan><tspan x="37.54" y="-0.07" textLength="16.23" lengthAdjust="spacingAndGlyphs" style="font-size:37.40px">e</tspan><tspan x="53.55" y="-0.08" textLength="17.66" lengthAdjust="spacingAndGlyphs" style="font-size:37.88px">a</tspan><tspan x="71.69" y="-0.14" textLength="11.52" lengthAdjust="spacingAndGlyphs" style="font-size:42.23px">t</tspan><tspan x="85.55" y="0.00" textLength="28.86" lengthAdjust="spacingAndGlyphs" style="font-size:37.12px">m</tspan><tspan x="114.17" y="-0.07" textLength="16.23" lengthAdjust="spacingAndGlyphs" style="font-size:37.40px">e</tspan><tspan x="130.71" y="0.00" textLength="18.96" lengthAdjust="spacingAndGlyphs" style="font-size:37.12px">n</tspan><tspan x="150.30" y="-0.14" textLength="11.52" lengthAdjust="spacingAndGlyphs" style="font-size:42.23px">t</tspan><tspan x="163.74" y="0.60" textLength="10.69" lengthAdjust="spacingAndGlyphs" style="font-size:42.87px">)</tspan><tspan x="177.58" y="-0.43" textLength="7.61" lengthAdjust="spacingAndGlyphs" style="font-size:34.35px">.</tspan></text>
<text transform="translate(1466.35 1021.00) scale(1.0800 1)"><tspan x="-0.77" y="0.00" textLength="25.00" lengthAdjust="spacingAndGlyphs" style="font-size:40.11px">T</tspan><tspan x="25.81" y="0.00" textLength="18.90" lengthAdjust="spacingAndGlyphs" style="font-size:38.92px">h</tspan><tspan x="44.59" y="-0.07" textLength="16.60" lengthAdjust="spacingAndGlyphs" style="font-size:37.40px">e</tspan></text>
<text transform="translate(1546.25 1021.00) scale(1.0570 1)"><tspan x="-1.45" y="-0.07" textLength="15.02" lengthAdjust="spacingAndGlyphs" style="font-size:37.40px">s</tspan><tspan x="13.48" y="-0.08" textLength="18.75" lengthAdjust="spacingAndGlyphs" style="font-size:37.88px">a</tspan><tspan x="32.83" y="0.00" textLength="30.63" lengthAdjust="spacingAndGlyphs" style="font-size:37.12px">m</tspan><tspan x="64.15" y="-0.15" textLength="20.55" lengthAdjust="spacingAndGlyphs" style="font-size:36.81px">p</tspan><tspan x="85.07" y="0.00" textLength="9.77" lengthAdjust="spacingAndGlyphs" style="font-size:38.92px">l</tspan><tspan x="94.53" y="-0.07" textLength="17.22" lengthAdjust="spacingAndGlyphs" style="font-size:37.40px">e</tspan></text>
<text transform="translate(1678.85 1021.00) scale(1.0368 1)"><tspan x="-1.45" y="-0.07" textLength="17.14" lengthAdjust="spacingAndGlyphs" style="font-size:37.40px">c</tspan><tspan x="15.15" y="-0.07" textLength="19.84" lengthAdjust="spacingAndGlyphs" style="font-size:37.40px">o</tspan><tspan x="35.11" y="0.00" textLength="20.43" lengthAdjust="spacingAndGlyphs" style="font-size:37.12px">n</tspan><tspan x="55.60" y="-0.07" textLength="15.24" lengthAdjust="spacingAndGlyphs" style="font-size:37.40px">s</tspan><tspan x="71.46" y="0.00" textLength="9.34" lengthAdjust="spacingAndGlyphs" style="font-size:38.41px">i</tspan><tspan x="81.21" y="-0.10" textLength="20.85" lengthAdjust="spacingAndGlyphs" style="font-size:38.78px">d</tspan><tspan x="102.20" y="-0.07" textLength="17.48" lengthAdjust="spacingAndGlyphs" style="font-size:37.40px">e</tspan><tspan x="119.81" y="0.00" textLength="13.99" lengthAdjust="spacingAndGlyphs" style="font-size:37.12px">r</tspan><tspan x="134.26" y="-0.07" textLength="15.24" lengthAdjust="spacingAndGlyphs" style="font-size:37.40px">s</tspan></text>
<text transform="translate(1848.15 1021.00) scale(1.0794 1)"><tspan x="-1.42" y="-0.07" textLength="18.98" lengthAdjust="spacingAndGlyphs" style="font-size:37.40px">o</tspan><tspan x="17.92" y="-0.08" textLength="19.54" lengthAdjust="spacingAndGlyphs" style="font-size:37.96px">u</tspan><tspan x="37.86" y="-0.14" textLength="11.87" lengthAdjust="spacingAndGlyphs" style="font-size:42.23px">t</tspan><tspan x="51.45" y="-0.10" textLength="19.95" lengthAdjust="spacingAndGlyphs" style="font-size:38.78px">d</tspan><tspan x="71.52" y="-0.07" textLength="18.98" lengthAdjust="spacingAndGlyphs" style="font-size:37.40px">o</tspan><tspan x="89.74" y="-0.07" textLength="18.98" lengthAdjust="spacingAndGlyphs" style="font-size:37.40px">o</tspan><tspan x="109.66" y="0.00" textLength="13.38" lengthAdjust="spacingAndGlyphs" style="font-size:37.12px">r</tspan></text>
<text transform="translate(396.85 1068.00) scale(1.0594 1)"><tspan x="-0.62" y="0.00" textLength="9.17" lengthAdjust="spacingAndGlyphs" style="font-size:38.41px">i</tspan><tspan x="9.65" y="0.00" textLength="20.06" lengthAdjust="spacingAndGlyphs" style="font-size:37.12px">n</tspan><tspan x="29.89" y="-0.07" textLength="16.84" lengthAdjust="spacingAndGlyphs" style="font-size:37.40px">c</tspan><tspan x="47.22" y="0.00" textLength="9.17" lengthAdjust="spacingAndGlyphs" style="font-size:38.41px">i</tspan><tspan x="56.81" y="-0.10" textLength="20.48" lengthAdjust="spacingAndGlyphs" style="font-size:38.78px">d</tspan><tspan x="77.42" y="-0.07" textLength="17.17" lengthAdjust="spacingAndGlyphs" style="font-size:37.40px">e</tspan><tspan x="94.93" y="0.00" textLength="20.06" lengthAdjust="spacingAndGlyphs" style="font-size:37.12px">n</tspan><tspan x="115.66" y="-0.14" textLength="12.19" lengthAdjust="spacingAndGlyphs" style="font-size:42.23px">t</tspan><tspan x="128.57" y="-0.07" textLength="14.97" lengthAdjust="spacingAndGlyphs" style="font-size:37.40px">s</tspan></text>
<text transform="translate(563.95 1068.00) scale(1.0373 1)"><tspan x="0.00" y="-0.10" textLength="20.33" lengthAdjust="spacingAndGlyphs" style="font-size:38.78px">b</tspan><tspan x="19.75" y="-0.07" textLength="17.51" lengthAdjust="spacingAndGlyphs" style="font-size:37.40px">e</tspan><tspan x="38.58" y="-0.14" textLength="12.43" lengthAdjust="spacingAndGlyphs" style="font-size:42.23px">t</tspan><tspan x="53.71" y="-0.06" textLength="26.27" lengthAdjust="spacingAndGlyphs" style="font-size:36.91px">w</tspan><tspan x="79.11" y="-0.07" textLength="17.51" lengthAdjust="spacingAndGlyphs" style="font-size:37.40px">e</tspan><tspan x="94.98" y="-0.07" textLength="17.51" lengthAdjust="spacingAndGlyphs" style="font-size:37.40px">e</tspan><tspan x="112.84" y="0.00" textLength="20.46" lengthAdjust="spacingAndGlyphs" style="font-size:37.12px">n</tspan></text>
<text transform="translate(717.35 1068.00) scale(0.9875 1)"><tspan x="-1.47" y="0.38" textLength="19.66" lengthAdjust="spacingAndGlyphs" style="font-size:39.21px">8</tspan><tspan x="19.25" y="-0.43" textLength="9.62" lengthAdjust="spacingAndGlyphs" style="font-size:34.72px">:</tspan><tspan x="29.62" y="0.38" textLength="20.01" lengthAdjust="spacingAndGlyphs" style="font-size:39.21px">0</tspan><tspan x="49.76" y="0.38" textLength="20.01" lengthAdjust="spacingAndGlyphs" style="font-size:39.21px">0</tspan></text>
<text transform="translate(800.85 1068.00) scale(1.0638 1)"><tspan x="-1.29" y="-0.08" textLength="18.33" lengthAdjust="spacingAndGlyphs" style="font-size:37.88px">a</tspan><tspan x="17.64" y="0.00" textLength="29.95" lengthAdjust="spacingAndGlyphs" style="font-size:37.12px">m</tspan></text>
<text transform="translate(866.95 1068.00) scale(1.0917 1)"><tspan x="-1.26" y="-0.08" textLength="17.93" lengthAdjust="spacingAndGlyphs" style="font-size:37.88px">a</tspan><tspan x="17.23" y="0.00" textLength="19.25" lengthAdjust="spacingAndGlyphs" style="font-size:37.12px">n</tspan></text>
<text transform="translate(922.95 1068.00) scale(0.9915 1)"><tspan x="-1.76" y="0.00" textLength="20.08" lengthAdjust="spacingAndGlyphs" style="font-size:39.00px">2</tspan><tspan x="18.31" y="0.00" textLength="18.74" lengthAdjust="spacingAndGlyphs" style="font-size:39.00px">1</tspan><tspan x="38.98" y="-0.43" textLength="9.60" lengthAdjust="spacingAndGlyphs" style="font-size:34.72px">:</tspan><tspan x="49.10" y="0.37" textLength="19.77" lengthAdjust="spacingAndGlyphs" style="font-size:39.94px">5</tspan><tspan x="69.90" y="0.38" textLength="19.32" lengthAdjust="spacingAndGlyphs" style="font-size:39.57px">9</tspan></text>
<text transform="translate(1026.25 1068.00) scale(1.0603 1)"><tspan x="-0.51" y="-0.15" textLength="20.41" lengthAdjust="spacingAndGlyphs" style="font-size:36.81px">p</tspan><tspan x="20.19" y="0.00" textLength="30.43" lengthAdjust="spacingAndGlyphs" style="font-size:37.12px">m</tspan><tspan x="51.95" y="-0.43" textLength="8.02" lengthAdjust="spacingAndGlyphs" style="font-size:34.35px">.</tspan></text>
<text transform="translate(1124.45 1068.00) scale(1.1032 1)"><tspan x="-0.49" y="-0.15" textLength="19.73" lengthAdjust="spacingAndGlyphs" style="font-size:36.81px">p</tspan><tspan x="19.68" y="5.94" textLength="26.57" lengthAdjust="spacingAndGlyphs" style="font-size:46.83px">&lt;</tspan><tspan x="47.12" y="0.38" textLength="17.92" lengthAdjust="spacingAndGlyphs" style="font-size:39.21px">0</tspan><tspan x="66.27" y="-0.43" textLength="7.75" lengthAdjust="spacingAndGlyphs" style="font-size:34.35px">.</tspan><tspan x="75.38" y="0.00" textLength="16.83" lengthAdjust="spacingAndGlyphs" style="font-size:39.00px">1</tspan><tspan x="94.94" y="1.62" textLength="7.35" lengthAdjust="spacingAndGlyphs" style="font-size:39.09px">;</tspan></text>
<text transform="translate(1287.65 1068.00) scale(1.0827 1)"><tspan x="-0.50" y="-0.15" textLength="20.06" lengthAdjust="spacingAndGlyphs" style="font-size:36.81px">p</tspan><tspan x="20.01" y="5.94" textLength="27.02" lengthAdjust="spacingAndGlyphs" style="font-size:46.83px">&lt;</tspan><tspan x="47.91" y="0.38" textLength="18.22" lengthAdjust="spacingAndGlyphs" style="font-size:39.21px">0</tspan><tspan x="67.38" y="-0.43" textLength="7.88" lengthAdjust="spacingAndGlyphs" style="font-size:34.35px">.</tspan><tspan x="76.43" y="0.38" textLength="18.22" lengthAdjust="spacingAndGlyphs" style="font-size:39.21px">0</tspan><tspan x="94.56" y="0.37" textLength="18.05" lengthAdjust="spacingAndGlyphs" style="font-size:39.94px">5</tspan><tspan x="114.86" y="1.62" textLength="7.47" lengthAdjust="spacingAndGlyphs" style="font-size:39.09px">;</tspan></text>
<text transform="translate(1486.55 1068.00) scale(1.0921 1)"><tspan x="-0.50" y="-0.15" textLength="19.95" lengthAdjust="spacingAndGlyphs" style="font-size:36.81px">p</tspan><tspan x="19.90" y="5.94" textLength="26.87" lengthAdjust="spacingAndGlyphs" style="font-size:46.83px">&lt;</tspan><tspan x="47.64" y="0.38" textLength="18.12" lengthAdjust="spacingAndGlyphs" style="font-size:39.21px">0</tspan><tspan x="67.01" y="-0.43" textLength="7.84" lengthAdjust="spacingAndGlyphs" style="font-size:34.35px">.</tspan><tspan x="76.01" y="0.38" textLength="18.12" lengthAdjust="spacingAndGlyphs" style="font-size:39.21px">0</tspan><tspan x="94.45" y="0.00" textLength="17.02" lengthAdjust="spacingAndGlyphs" style="font-size:39.00px">1</tspan><tspan x="113.60" y="-0.43" textLength="7.84" lengthAdjust="spacingAndGlyphs" style="font-size:34.35px">.</tspan></text>
<text transform="translate(915.35 294.30) scale(1.3013 1)">−</text>
<text transform="translate(1129.15 294.30) scale(1.3013 1)">−</text>
<text class="s" transform="translate(1269.95 272.70) scale(0.6286 0.5600)">∗</text>
<text class="s" transform="translate(1286.42 272.70) scale(0.6286 0.5600)">∗</text>
<text class="s" transform="translate(1302.89 272.70) scale(0.6286 0.5600)">∗</text>
<text transform="translate(1362.35 294.30) scale(1.3013 1)">−</text>
<text class="s" transform="translate(1503.15 272.70) scale(0.6286 0.5600)">∗</text>
<text class="s" transform="translate(1519.62 272.70) scale(0.6286 0.5600)">∗</text>
<text transform="translate(1579.75 294.30) scale(1.3013 1)">−</text>
<text class="s" transform="translate(1720.55 272.70) scale(0.6286 0.5600)">∗</text>
<text class="s" transform="translate(1737.02 272.70) scale(0.6286 0.5600)">∗</text>
<text transform="translate(1779.75 294.30) scale(1.3013 1)">−</text>
<text class="s" transform="translate(1920.55 272.70) scale(0.6286 0.5600)">∗</text>
<text class="s" transform="translate(1104.84 1050.50) scale(0.6286 0.5600)">∗</text>
<text class="s" transform="translate(1251.54 1050.50) scale(0.6286 0.5600)">∗</text>
<text class="s" transform="translate(1268.01 1050.50) scale(0.6286 0.5600)">∗</text>
<text class="s" transform="translate(1434.44 1050.50) scale(0.6286 0.5600)">∗</text>
<text class="s" transform="translate(1450.91 1050.50) scale(0.6286 0.5600)">∗</text>
<text class="s" transform="translate(1467.38 1050.50) scale(0.6286 0.5600)">∗</text>
</svg>
</body></html>
